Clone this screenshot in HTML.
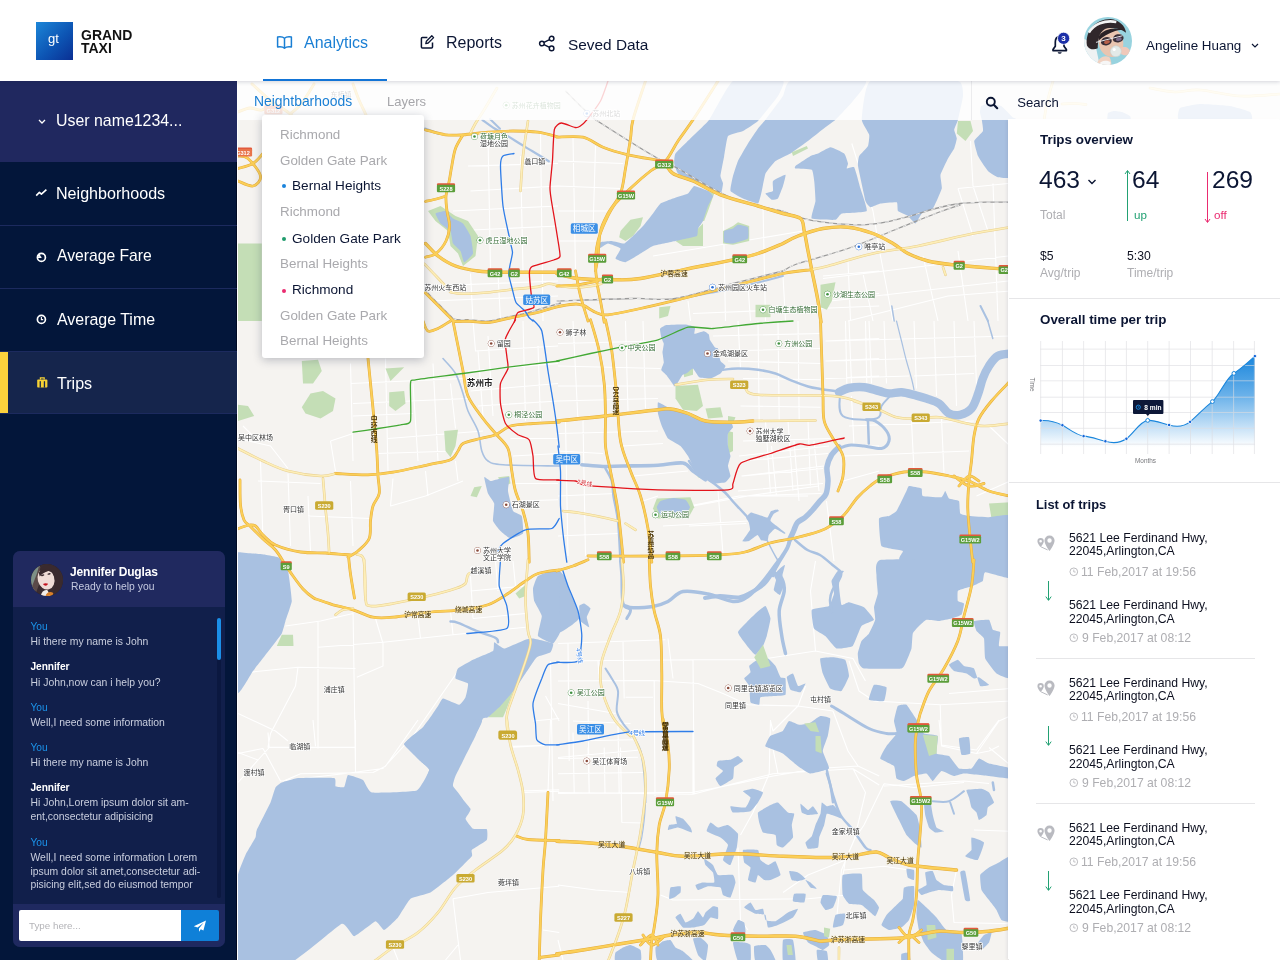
<!DOCTYPE html>
<html lang="en">
<head>
<meta charset="utf-8">
<title>Grand Taxi Analytics</title>
<style>
*{box-sizing:border-box;margin:0;padding:0}
html,body{width:1280px;height:960px;overflow:hidden;background:#fff}
body{font-family:"Liberation Sans","Noto Sans CJK SC",sans-serif;color:#0b1533;position:relative}
.t{position:absolute;white-space:nowrap;line-height:1;transform-origin:0 50%}
.abs{position:absolute}
/* header */
#header{position:absolute;left:0;top:0;width:1280px;height:81px;background:#fff;z-index:30;box-shadow:0 1px 4px rgba(20,30,60,.18)}
#logo{position:absolute;left:36px;top:22px;width:37px;height:38px;background:linear-gradient(135deg,#1c86d8 0%,#0d55b4 55%,#0a2f93 100%)}
/* sidebar */
#side{position:absolute;left:0;top:81px;width:237px;height:879px;background:#03163a;z-index:20;box-shadow:inset -1px 0 0 #010a22}
#side .user{position:absolute;left:0;top:0;width:237px;height:81px;background:#20285f}
#side .row{position:absolute;left:0;width:237px;height:63px;border-top:1px solid #1c2a5e}
#side .row.act{background:#15254c}
#side .row.act:before{content:"";position:absolute;left:0;top:0;width:8px;height:100%;background:#fcd23c}
#side .t{color:#fff}
/* chat */
#chat{position:absolute;left:13px;top:470px;width:212px;height:396px;border-radius:7px;background:#111f4b;overflow:hidden}
#chat .hd{position:absolute;left:0;top:0;width:212px;height:56px;background:#20295f}
#chat .ft{position:absolute;left:0;top:353px;width:212px;height:43px;background:#1f2960}
#chat .m{color:#c9cede;font-size:10.4px}
#chat .y{color:#1b93ea;font-size:10.2px}
#chat .j{color:#fff;font-size:10.2px;font-weight:bold;letter-spacing:-.1px}
/* map */
#map{position:absolute;left:238px;top:81px;width:1042px;height:879px;background:#f5f3f0;overflow:hidden;z-index:1}
#toolbar{position:absolute;left:238px;top:81px;width:1042px;height:39px;background:rgba(255,255,255,.82);z-index:10}
#dd{position:absolute;left:262px;top:115px;width:162px;height:243px;background:#fff;border-radius:3px;box-shadow:0 2px 10px rgba(30,40,70,.28);z-index:12}
#dd .g{color:#a9a9ad;font-size:13.4px}
#dd .d{color:#0b1533;font-size:13.6px}
#dd i{position:absolute;width:4px;height:4px;border-radius:50%}
/* right panel */
#panel{position:absolute;left:1009px;top:120px;width:271px;height:840px;background:#fff;z-index:5;box-shadow:-1px -1px 0 #fff,-2px 0 3px rgba(40,50,80,.10)}
#panel .h{font-weight:bold;font-size:13.4px;color:#0b1533}
#panel .n{font-size:24.6px;color:#0b1533}
#panel .g{color:#aeaeb2;font-size:12px}
#panel .a{font-size:12.2px;color:#0d1020}
#panel .hr{position:absolute;height:1px;background:#e6e6e8}
#panel .trip{position:absolute;left:0;width:271px;height:140px}
</style>
</head>
<body>

<!-- MAP -->
<div id="map">
<svg id="mapsvg" width="1042" height="879" viewBox="238 81 1042 879">
<!--MAPSTART-->
<g fill="none" stroke="#fff" stroke-width="1.1" stroke-linejoin="round">
<path d="M468 166L558 163.5M470.5 191L558 186M488 136L490.5 271M520.5 156L523 271M540.5 133.5L543 321M450.5 231L558 226M453 211L558 206M428 286L558 281M430.5 301L558 296M470.5 273.5L473 321M498 273.5L500.5 321M558 161L623 163.5M558 186L620.5 188.5M558 211L608 211M573 138.5L575.5 271M595.5 146L593 231M558 241L598 241M723 198.5L725.5 321M763 206L765.5 321M653 256L803 231M688 301L690.5 321M748 286L750.5 321M783 276L785.5 321M823 276L879.2 271M823 296L879.2 293.5M848 261L850.5 321M693 313.5L879.2 306M851.8 143.5L873 211L880.5 256L893 321M958 188.5L1008 183.5M958 188.5L973 236M973 186L988 231M993 183.5L998 321M970.5 141L973 186M823 278.5L1008 256M830.5 301L1008 281M848 321L948 296L1010.5 291M863 273.5L873 321M923 256L938 321M958 251L968 321M350.5 363.5L353 461M385.5 358.5L388 471M350.5 383.5L463 378.5M353 403.5L468 398.5M353 416L413 413.5M388 438.5L483 431M378 453.5L455.5 451M413 383.5L418 461M433 363.5L438 461M450.5 383.5L455.5 428.5M473 321L475.5 351L558 346M478 351L483 416M488 336L493 416M523 321L525.5 421M538 346L540.5 421M468 371L558 363.5M470.5 391L558 383.5M478 406L558 401M510.5 438.5L558 438.5M513 456L558 453.5M513 483.5L558 483.5M518 501L558 499.8M238 438.5L270.5 446L288 468.5M258 481L320.5 483.5M260.5 461L263 541M288 473.5L290.5 546M308 516L370.5 518.5M308 496L310.5 551M350.5 481L353 546M330.5 441L353 433.5M330.5 441L335.5 471M393 478.5L390.5 506L425.5 496L463 481M425.5 471L428 496M455.5 461L458 481M243 426L253 436M558 343.5L658 341M558 366L660.5 368.5M558 386L673 386M558 401L658 398.5M573 321L578 421M625.5 321L628 411M643 321L645.5 408.5M713 336L820.5 333.5M723 351L820.5 348.5M728 361L820.5 363.5M738 321L740.5 368.5M758 321L759.2 421M778 321L779.2 421M798 321L799.2 421M743 378.5L820.5 379.8M740.5 406L820.5 407.2M825.5 341L879.2 338.5M825.5 361L879.2 358.5M825.5 378.5L879.2 376M845.5 321L846.8 383.5M865.5 321L866.8 383.5M743 441L833 438.5M740.5 461L828 453.5M743 476L823 468.5M738 491L823 483.5M765.5 421L770.5 493.5M788 421L793 491M808 421L810.5 486M558 433.5L658 431M558 451L603 453.5M565.5 421L568 556M583 421L585.5 556M558 496L615.5 493.5M558 536L618 533.5M623 446L663 443.5M633 476L688 471M643 501L658 496M663 526L748 521M693 506L748 496L808 496M718 491L723 553.5M843 481L879.2 471M853 446L879.2 446M829 341L1010.2 336M829 361L914 358.5M829 378.5L909 376M849 321L851.5 383.5M869 321L871.5 383.5M884 321L886.5 383.5M914 321L916.5 388.5M934 321L936.5 396M954 321L956.5 406M974 321L976.5 386M914 358.5L976.5 356M914 376L974 373.5M849 426L974 421M844 456L969 451M911.5 421L914 471M941.5 418.5L944 473.5M851.5 396L854 446M739 456L829 446M741.5 476L824 466M746.5 496L819 486M771.5 446L776.5 496M794 441L799 501M814 441L819 491M689 506L739 496L821.5 493.5M689 526L746.5 523.5M826.5 501L834 561M976.5 496L1010.2 481M989 426L1010.2 446M285.5 626L320.5 621L353 613.5M318 621L318 748.5M353 608.5L355.5 771M318 647.2L383 642.2L453 634.8L525.5 627.2M375.5 618.5L383 643.5L383 666L356.8 677.2M238 673.5L298 667.2L355.5 668.5M298 667.2L295.5 686L270.5 733.5L268 747.2L355.5 747.2M238 713.5L275.5 731L288 741M238 753.5L263 748.5M263 748.5L280.5 781L345.5 773.5L383 768.5L413 736L458 671M418 617.2L420.5 638.5M450.5 611L453 634.8M470.5 576L473 618.5M470.5 591L525.5 586M473 618.5L525.5 613.5M495.5 561L498 591M513 561L515.5 586M533 721L559.2 718.5M513 747.2L559.2 744.8M550.5 661L553 801M520.5 791L559.2 789.8M545.5 696L559.2 721M558 643.5L665.5 639.8M558 661L693 659.8L758 659.8L815.5 651L853 658.5L865.5 681M558 681L653 680.5L698 683.5L723 693.5L748 704.8L798 706L833 711M693 659.8L694.2 793.5M623 641L624.2 698.5M668 638.5L673 678.5M654.2 681L655 796M558 703.5L615.5 713.5M558 758.5L638 757.2M558 793.5L693 792.2L738 783.5L773 776L818 768.5L858 766L879.2 776M568 643.5L569.2 761M588 701L589.2 793.5M598 661L599.2 678.5M618 726L619.2 793.5M573 721L630.5 723.5M573 741L633 739.8M815.5 561L810.5 591L815.5 651M805.5 686L798 706L773 731L770.5 721M833 711L848 751L858 766M625.5 697.2L653 697.2M940.2 704.8L1010.2 701M940.2 704.8L941.5 746L976.5 753.5L999 721L1010.2 716M949 693.5L1010.2 688.5M849 661L859 691L874 701L940.2 704.8M884 786L964 781L989 783.5M999 746L989 751L976.5 753.5M313 720L315.5 746.2M355.5 720L355.5 772.5M268 747.5L355.5 747.5M268 732.5L269.2 747.5L258 760L238 782.5M283 781.2L300.5 773.8L373 772.5L385.5 766.2L418 720M238 752.5L258 760M513 746.2L559.2 745M523 792.5L559.2 791.2M550.5 720L548 792.5M453 898.8L488 892.5L559.2 886.2M453 898.8L458 940L460.5 960M543 930L559.2 932.5M393 947.5L398 960M458 945L445.5 960M573 732.5L574.2 792.5M588 747.5L589.2 792.5M604.2 747.5L605 792.5M620.5 747.5L621.8 822.5M558 757.5L640.5 750M558 773.8L643 772.5M558 792.5L693 794.2L738 782.5L773 773.8L853 768.8L879.2 785M621.8 822.5L643 823M654.2 731.2L693 731.2L693 794.2M558 885L595.5 890L630.5 892.5M660.5 895L673 900L808 898.8L848 895M738 847.5L740.5 920L748 930M770.5 720L769.2 773.8L753 812.5L740.5 835M773 748.8L778 773.8M853 768.8L865.5 792.5L854.2 840L845.5 860L843 875M845.5 860L808 875L783 892.5M558 940L563 960M838 940L840.5 960M884 783.8L914 787.5L964 782.5M884 783.8L864 825L854 840L841.5 870L839 895L836.5 920M941.5 745L976.5 750L999 720M939 720L941.5 745M974 830L1010.2 831.2M956.5 870L951.5 895L954 922.5L1010.2 923.8M989 747.5L1010.2 765M844 870L884 866.2L909 870"/>
</g>
<g fill="#c4deb6">
<polygon points="238,243.5 261.8,243.5 261.8,321 238,321"/>
<polygon points="428,211 440.5,206 455.5,216 468,221 478,236 475.5,256 463,266 458,253.5 450.5,246 448,231 435.5,221"/>
<polygon points="620.5,231 630.5,219.8 643,217.2 640.5,226 633,236 625.5,241 619.2,237.2"/>
<polygon points="675.5,241 698,228.5 703,223.5 703,246 683,246"/>
<polygon points="723,231 733,226 738,222.2 749.2,226 749.2,241 733,244.8 723,243.5"/>
<polygon points="708,191 714.2,193.5 708,211 704.2,221 700.5,221 705.5,206"/>
<polygon points="958,121 970.5,121 973,131 965.5,141 956.8,133.5"/>
<polygon points="820.5,284.8 835.5,282.2 831.8,301 826.8,309.8 820.5,307.2"/>
<polygon points="755.5,304.8 770.5,304.8 770.5,317.2 755.5,317.2"/>
<polygon points="659.2,307.2 670.5,306 668,316 659.2,318.5"/>
<polygon points="301.8,361 318,359.8 321.8,371 313,383.5 303,383.5"/>
<polygon points="310.5,393.5 323,391 335.5,398.5 333,411 320.5,418.5 305.5,413.5 301.8,407.2"/>
<polygon points="385.5,368.5 404.2,367.2 390.5,381"/>
<polygon points="389.2,392.2 404.2,391 405.5,403.5 395.5,411 389.2,406"/>
<polygon points="444.2,431 458,429.8 455.5,446 450.5,457.2 445.5,451"/>
<polygon points="238,404.8 248,406 254.2,416 238,421"/>
<polygon points="470.5,496 474.2,487.2 481.8,486 476.8,497.2"/>
<polygon points="498,477.2 509.2,476 510.5,483.5 503,486"/>
<polygon points="288,321 320.5,321 320.5,336 303,343.5 291.8,336"/>
<polygon points="675.5,386 698,384.8 703,406 696.8,411 683,409.8 675.5,398.5"/>
<polygon points="705.5,408.5 720.5,407.2 723,417.2 708,418.5"/>
<polygon points="728,416 735.5,417.2 733,423.5 728,422.2"/>
<polygon points="728,431 733,432.2 733,451 728,453.5"/>
<polygon points="694.2,468.5 703,473.5 704.2,479.8 698,477.2"/>
<polygon points="656.8,498.5 690.5,497.2 694.2,507.2 688,518.5 658,518.5 653,508.5"/>
<polygon points="683,368.5 693,367.2 693,374.8 684.2,377.2"/>
<polygon points="989,503.5 1010.2,502.2 1010.2,521 991.5,518.5"/>
<polygon points="276.8,646 281.8,634.8 293,634.8 293.5,646"/>
<polygon points="488,717.2 503,696 514.2,688.5 506.8,708.5 503,717.2"/>
<polygon points="515.5,593.5 525.5,584.8 525.5,596 519.2,598.5"/>
</g>
<g fill="#a9c1e1">
<path d="M733 81C728.6 83.3 711.6 116.5 709.2 119.8C706.9 123 696.3 132.7 694.2 134.8C692.2 136.8 676.7 151.8 675.5 153.5C674.3 155.2 674.1 162.3 674.2 163.5C674.4 164.7 676.9 172.4 678 173.5C679.1 174.6 691.2 180.1 693 181C694.8 181.9 706.4 187.7 708 188.5C709.6 189.3 719.6 195.1 720.5 194.8C721.4 194.4 723 184.6 723 183.5C723 182.4 720.4 177.7 720.5 176C720.6 174.3 723.8 158.4 724.2 156C724.7 153.6 726.9 137.5 728 136C729.1 134.5 741.2 131.9 743 131C744.8 130.1 755.9 123.1 758 121C760.1 118.9 776.5 98.4 778 96C779.5 93.6 785.7 81.9 783 81C780.3 80.1 737.4 78.7 733 81Z"/>
<path d="M730.5 191C729.9 189.7 732.5 177.8 733 176C733.5 174.2 737.1 162.9 738 161C738.9 159.1 746.8 145.4 748 143.5C749.2 141.6 757 129.9 758 128.5C759 127.1 764 121.7 765.5 119.8C767 117.8 781.5 98.3 783 96C784.5 93.7 785.5 81.9 790.5 81C795.5 80.1 861.8 79.8 865.5 81C869.2 82.2 854.8 98.7 853 101C851.2 103.3 837.5 118 835.5 119.8C833.5 121.5 822.1 129.7 820.5 131C818.9 132.3 809.8 139.7 808 141C806.2 142.3 792.5 152.3 790.5 153.5C788.5 154.7 777 159.8 775.5 161C774 162.2 766.3 171.7 765.5 173.5C764.7 175.3 762.2 189.2 761.8 191C761.3 192.8 759.1 203.1 758 203.5C756.9 203.9 744.6 199.2 743 198.5C741.4 197.8 731.1 192.3 730.5 191Z"/>
<path d="M660.5 203.5C661.7 202.6 671.4 199.1 673 198.5C674.6 197.9 686.7 194.2 688 193.5C689.3 192.8 693 186.2 694.2 186C695.5 185.8 706.9 190.4 708 191C709.1 191.6 713 195.1 713 196C713 196.9 708.6 204.5 708 206C707.4 207.5 703.6 219.7 703 221C702.4 222.3 698.4 227.6 698 228.5C697.6 229.4 698.1 235.2 696.8 236C695.4 236.8 678.1 240.4 675.5 241C672.9 241.6 655.1 245.2 653 246C650.9 246.8 642.1 252.5 640.5 253.5C638.9 254.5 627 261.9 625.5 262.2C624 262.6 615.8 259.3 615.5 258.5C615.2 257.7 621 249.4 620.5 248.5C620 247.6 609.3 243.5 608 243.5C606.7 243.5 599.7 248.6 599.2 248.5C598.8 248.4 599.8 242.7 600.5 242.2C601.2 241.8 610.3 240.9 611.8 241C613.2 241.1 623 243.8 624.2 243.5C625.5 243.2 631.9 237.1 633 236C634.1 234.9 641.8 227.3 643 226C644.2 224.7 652 214.8 653 213.5C654 212.2 659.3 204.4 660.5 203.5Z"/>
<path d="M795.5 166C796.4 165.2 809.1 156.8 810.5 156C811.9 155.2 816.8 154 818 153.5C819.2 153 828.9 147.2 830.5 147.2C832.1 147.2 843.2 152.5 844.2 153.5C845.3 154.5 847.9 162.6 848 163.5C848.1 164.4 846.4 168.3 846.8 168.5C847.1 168.7 853.4 166.1 854.2 167.2C855.1 168.4 859.8 185.9 860.5 188.5C861.2 191.1 867.9 209.5 866.8 211C865.6 212.5 843.6 213 841.8 213.5C839.9 214 837.3 219.4 835.5 219.8C833.7 220.1 813 219.6 811.8 218.5C810.5 217.4 815.4 203.2 815.5 201C815.6 198.8 814.5 182.9 814.2 181C814 179.1 812.9 170.5 811.8 169.8C810.6 169 796.5 168.7 795.5 168.5C794.5 168.3 794.6 166.8 795.5 166Z"/>
<path d="M773 181C773.8 180 784.9 174.4 785.5 174.8C786.1 175.1 783.5 184.6 783 186C782.5 187.4 778.7 197.7 778 198.5C777.3 199.3 772.5 200.1 771.8 199.8C771 199.4 765.4 194 765.5 193.5C765.6 193 772.5 191.8 773 191C773.5 190.2 772.2 182 773 181Z"/>
<path d="M870.5 81C864.7 83.3 861.8 116.5 861.8 119.8C861.7 123 868.9 133.2 869.2 134.8C869.6 136.3 868.6 144.7 868 146C867.4 147.3 859.9 154.8 859.2 156C858.6 157.2 857.6 163.3 858 166C858.4 168.7 864.8 198.5 865.5 201C866.2 203.5 869.6 207.1 870.5 207.2C871.4 207.4 878.9 203.8 880.5 203.5C882.1 203.2 895.7 201.8 896.8 202.2C897.8 202.7 897.3 210.2 898 211C898.7 211.8 907 215.2 908 216C909 216.8 914.7 223.7 915.5 223.5C916.3 223.3 920.7 214.4 921.8 213.5C922.8 212.6 931.8 210 933 208.5C934.2 207 941.3 190.5 941.8 188.5C942.2 186.5 940.1 176.6 940.5 174.8C940.9 172.9 947.2 160.1 948 158.5C948.8 156.9 953.7 149.7 954.2 148.5C954.8 147.3 956.8 139.6 956.8 138.5C956.8 137.4 954.2 130.9 954.2 129.8C954.3 128.6 957.5 121.8 958 119.8C958.5 117.7 963 98.3 963 96C963 93.7 963.5 81.9 958 81C952.5 80.1 876.3 78.7 870.5 81Z"/>
<path d="M981.2 106C981.8 105.5 987.5 103.5 988.8 103.5C990 103.5 999.8 105.2 1001.2 106C1002.7 106.8 1011.6 116.3 1012.5 117.2C1013.4 118.2 1016.5 117.5 1016.8 121C1017 124.5 1017.9 172.6 1016.8 176C1015.6 179.4 999.7 177.6 998 177.2C996.3 176.9 989.2 172.3 988 171C986.8 169.7 978.8 157.8 978 156C977.2 154.2 974 142.5 974.2 141C974.5 139.5 982.5 132.3 983 131C983.5 129.7 981.9 120.9 981.8 119.8C981.6 118.6 980 113.1 980 112.2C980 111.4 980.7 106.5 981.2 106Z"/>
<path d="M1108 113C1108.4 112.4 1113.2 111.1 1114 111C1114.8 110.9 1121 111.7 1122 112C1123 112.3 1129.5 115.5 1130 116C1130.5 116.5 1131.3 120.7 1130 121C1128.7 121.3 1109.3 121.5 1108 121C1106.7 120.5 1107.6 113.6 1108 113Z"/>
<path d="M1180 108C1181.2 107 1197 104.1 1200 104C1203 103.9 1227 105.5 1230 106C1233 106.5 1248.8 111.1 1250 112C1251.2 112.9 1254.2 120.5 1250 121C1245.8 121.5 1184.2 121.8 1180 121C1175.8 120.2 1178.8 109 1180 108Z"/>
<path d="M724.2 231C724.8 230.2 732.2 228.9 733 228.5C733.8 228.1 737.1 224.8 738 224.8C738.9 224.7 747.4 226.4 748 227.2C748.6 228.1 748.9 237.5 748 238.5C747.1 239.5 734.4 243.3 733 243.5C731.6 243.7 724.8 243 724.2 242.2C723.7 241.5 723.7 231.8 724.2 231Z"/>
<path d="M435.5 213.5C435.8 212.8 444.4 210.7 445.5 211C446.6 211.3 451.9 217.8 453 218.5C454.1 219.2 461.9 222.4 463 223.5C464.1 224.6 469.9 234.2 470.5 236C471.1 237.8 473.4 251.9 473 253.5C472.6 255.1 465 262.4 464.2 262.2C463.5 262.1 461.2 252.1 460.5 251C459.8 249.9 453.6 244.7 453 243.5C452.4 242.3 451.2 232.2 450.5 231C449.8 229.8 441.4 224.6 440.5 223.5C439.6 222.4 435.2 214.2 435.5 213.5Z"/>
<path d="M660 328.8C660.3 328.1 664.8 325.3 666.3 325C667.8 324.7 683.3 324.3 685 324.4C686.7 324.5 694.4 326.3 695 326.9C695.6 327.5 693.9 333.5 694.4 333.8C694.9 334.1 702.9 331.3 703.8 331.3C704.7 331.3 708.4 333.9 708.8 334.4C709.2 334.9 709.6 339.2 710 340C710.4 340.8 714.5 347 715 347.5C715.5 348 717.7 347.7 718 348.5C718.3 349.3 720 359.9 720.5 361C721 362.1 725.5 365.2 725.5 366C725.5 366.8 721.4 372.8 720.5 373.5C719.6 374.2 711.8 378.3 710.5 378.5C709.2 378.7 700.3 377.9 699.3 377.3C698.2 376.7 693.7 368.8 693 368.5C692.3 368.2 687.6 372.6 687 373C686.4 373.4 683.1 374.3 682.5 375C681.9 375.7 676.8 384.3 676.3 385C675.8 385.7 674.8 386.6 674.4 386.3C674 386 670.5 380.7 670 380C669.5 379.3 666.8 375.6 666.3 375C665.8 374.4 661.4 370.8 661.3 370C661.1 369.2 663.7 363.6 663.8 362.5C663.9 361.4 662.5 353.6 662.5 352.5C662.5 351.4 663.9 344.7 663.8 343.8C663.7 342.9 661.5 338.4 661.3 337.5C661.1 336.6 659.7 329.6 660 328.8Z"/>
<path d="M658 402.2C658.6 401.9 666.5 406.7 668 407.2C669.5 407.8 681.2 410.4 683 411C684.8 411.6 696.5 416.6 698 417.2C699.5 417.9 706 421.9 708 422.2C710 422.6 729 421.9 730.5 422.2C732 422.6 733.1 426.6 733 427.2C732.9 427.9 728.3 432.4 728 433.5C727.7 434.6 727.9 444.6 728 446C728.1 447.4 730.5 454.8 730.5 456C730.5 457.2 728 464.8 728 466C728 467.2 730.6 475 730.5 476C730.4 477 726.5 481.8 725.5 482.2C724.5 482.7 714.2 483.7 713 483.5C711.8 483.3 706.5 479.2 705.5 478.5C704.5 477.8 696.5 472.4 695.5 471C694.5 469.6 688.9 457.5 688 456C687.1 454.5 681.7 447.1 680.5 446C679.3 444.9 669.1 439.7 668 438.5C666.9 437.3 662.4 427.5 661.8 426C661.1 424.5 658.2 414.9 658 413.5C657.8 412.1 657.4 402.6 658 402.2Z"/>
<path d="M656.8 507.2C656.8 506.4 659.5 501.6 660.5 501C661.5 500.4 671.5 498.1 673 498C674.5 497.9 684.5 499.2 685.5 499.8C686.5 500.3 690 506.4 690 507.2C690 508.1 686.5 514.1 685.5 514.8C684.5 515.4 674.5 517.2 673 517.2C671.5 517.2 661.5 515.4 660.5 514.8C659.5 514.1 656.8 508.1 656.8 507.2Z"/>
<path d="M484.2 477.2C484.4 476.5 489.5 480.9 490.5 481C491.5 481.1 499.4 478.7 500.5 478.5C501.6 478.3 508.8 476.5 509.2 477.2C509.7 478 507.8 489 508 491C508.2 493 512.2 509.5 513 511C513.8 512.5 521.1 514.6 521.8 516C522.4 517.4 523.7 532.1 523 533.5C522.3 534.9 511.9 538.6 510.5 538.5C509.1 538.4 501.6 532 500.5 531C499.4 530 493.4 522.6 493 521C492.6 519.4 494.6 505.1 494.2 503.5C493.9 501.9 488.6 495.1 488 493.5C487.4 491.9 484.1 478 484.2 477.2Z"/>
<path d="M238 552.2C238.9 551.8 251.3 553.4 253 553.5C254.7 553.6 264 554.5 265.5 554.8C267 555 277 556.9 278 557.2C279 557.6 284.1 560.8 281.8 561C279.4 561.2 240.6 561.5 238 561C235.4 560.5 237.1 552.7 238 552.2Z"/>
<path d="M746 517.5C746.1 516.9 750.1 512.6 751 512.5C751.9 512.4 760 515.3 761 515.6C762 515.9 766.9 517.8 767.5 517.5C768.1 517.2 770.4 511.5 771 511C771.6 510.5 777 509.4 777.5 509.4C778 509.4 779 510.7 778.8 511C778.6 511.3 774.3 513.2 773.8 513.8C773.3 514.4 769.9 519.9 770.6 521C771.3 522.1 784.2 531.7 785 532.5C785.8 533.3 785 534 784.4 533.8C783.8 533.6 775.9 528.7 775 528.8C774.1 528.9 769.2 534.3 768.8 535C768.3 535.7 768 540.7 767.5 541C767 541.3 761.6 540.4 761 540C760.4 539.6 758.2 534.9 757.5 535C756.8 535.1 749.7 540.6 748.8 541C747.9 541.4 742.4 541.7 742.5 541C742.6 540.3 749.6 531.1 750 530C750.4 528.9 749 523.2 748.8 522.5C748.6 521.8 745.9 518.1 746 517.5Z"/>
<path d="M781 567.5C781.7 566.9 784.9 564.5 785 565C785.1 565.5 782.6 573.8 782.5 575C782.4 576.2 783.9 583.8 783.8 585C783.6 586.2 780.6 594.7 780 595C779.4 595.3 774 590.9 773.8 590C773.6 589.1 776 580.9 776 580C776 579.1 773.5 575.8 773.8 575C774.1 574.2 780.3 568.1 781 567.5Z"/>
<path d="M906.5 491C906.8 490.4 908.1 486.1 909 486C909.9 485.9 920.7 487.9 921.5 488.5C922.3 489.1 921.5 495.5 922.8 496C924 496.5 940.1 497.6 941.5 497.2C942.9 496.9 944.8 490.9 945.2 491C945.7 491.1 948.2 497.9 949 498.5C949.8 499.1 958.3 500.1 959 501C959.7 501.9 959.6 512.6 960.2 513.5C960.9 514.4 967.3 515.8 969 516C970.7 516.2 986.5 517.2 989 517.2C991.5 517.2 1010.1 513.4 1011.5 516C1012.9 518.6 1018.1 558.3 1011.5 561C1004.9 563.7 908 561.6 901.5 561C895 560.4 904 551.9 902.8 551C901.5 550.1 882.9 548 881.5 546C880.1 544 878.5 520.3 879 518.5C879.5 516.7 888 516.5 889 516C890 515.5 895.6 512.2 896.5 511C897.4 509.8 903.4 497.2 904 496C904.6 494.8 906.2 491.6 906.5 491Z"/>
<path d="M881.5 559.8C873.4 560.7 876.7 574 876.5 576C876.3 578 877.9 591.6 877.8 593.5C877.6 595.4 874.1 605.7 874 607.2C873.9 608.8 875.5 618.2 875.2 619.8C875 621.3 869.8 632.2 869 633.5C868.2 634.8 862.2 639.8 861.5 641C860.8 642.2 857.9 652.1 857.8 653.5C857.6 654.9 858.6 662.6 859 663.5C859.4 664.4 861.5 668.2 864 668.5C866.5 668.8 899 669 901.5 668.5C904 668 905.9 662.2 906.5 661C907.1 659.8 911.1 650.1 911.5 648.5C911.9 646.9 912.3 634.9 912.8 633.5C913.2 632.1 918.2 626.8 919 626C919.8 625.2 925.3 620 926.5 619.8C927.7 619.5 937.5 621.1 939 621C940.5 620.9 950.1 618.9 951.5 618.5C952.9 618.1 960.8 615.6 961.5 614.8C962.2 613.9 964.2 604.3 964 603.5C963.8 602.7 958.1 601.8 957.8 601C957.4 600.2 957.4 591.8 957.8 591C958.1 590.2 963.1 588.8 964 588.5C964.9 588.2 971.6 586.5 972.8 586C973.9 585.5 982 581.8 982.8 581C983.5 580.2 983.5 572.4 985.2 572.2C987 572.1 1009.9 579.2 1011.5 578.5C1013.1 577.8 1019.3 560.9 1011.5 559.8C1003.7 558.6 889.6 558.8 881.5 559.8Z"/>
<path d="M236.8 559.8C239.3 551.8 276.2 559.1 279.2 559.8C282.3 560.4 287.2 568.5 288 571C288.8 573.5 291.9 598 291.8 601C291.6 604 286.1 619 285.5 621C284.9 623 282.6 631.9 281.8 633.5C280.9 635.1 272.2 646.2 270.5 648.5C268.8 650.8 255 668.4 253 671C251 673.6 237.7 698.9 236.8 692.2C235.8 685.6 234.2 567.7 236.8 559.8Z"/>
<path d="M494.2 642.2C494.9 642.1 502.4 648.6 504.2 648.5C506.1 648.4 523.8 640.4 525.5 639.8C527.2 639.1 531.4 638.3 533 638.5C534.6 638.7 552 642.7 553 643.5C554 644.3 551.5 651.4 550.5 652.2C549.5 653.1 538.2 656 536.8 657.2C535.2 658.5 526.8 671.6 525.5 673.5C524.2 675.4 517 686.5 515.5 688.5C514 690.5 502.1 704.3 500.5 706C498.9 707.7 489.1 716.5 488 717.2C486.9 718 483.8 717.4 483 718.5C482.2 719.6 476.6 733.6 475.5 736C474.4 738.4 465.4 756.1 464.2 758.5C463.1 760.9 456.2 774.4 455.5 776C454.8 777.6 452.6 784.5 453 786C453.4 787.5 465.1 800.1 463 801C460.9 801.9 420.4 801.9 418 801C415.6 800.1 422.3 787.9 423 786C423.7 784.1 429.4 771.2 429.2 769.8C429.1 768.2 422 762.5 420.5 761C419 759.5 404.9 746.2 404.2 744.8C403.6 743.3 409.3 738.4 410.5 737.2C411.7 736.1 422.6 727.9 424.2 726C425.9 724.1 436.9 707.6 438 706C439.1 704.4 441.7 698.6 443 698.5C444.3 698.4 457.9 704.8 459.2 704.8C460.6 704.7 465 698.5 465.5 697.2C466 696 468.6 684.6 468 683.5C467.4 682.4 456.1 679.4 455.5 678.5C454.9 677.6 456.9 669.6 458 668.5C459.1 667.4 470.9 660.8 473 659.8C475.1 658.7 491.7 652 493 651C494.3 650 493.6 642.4 494.2 642.2Z"/>
<path d="M430.5 720C434 719.5 479.5 718.4 481.8 720C484 721.6 469.6 744.2 468 747.5C466.4 750.8 455.1 772.6 454.2 775C453.4 777.4 452 785.5 453 787.5C454 789.5 469.8 806.9 470.5 808.8C471.2 810.6 465.4 817.5 465.5 818.8C465.6 820 471.7 828.1 473 828.8C474.3 829.4 485.9 828.6 486.8 829.2C487.6 829.9 487.6 838.8 486.8 840C485.9 841.2 472.6 849 471.8 850C470.9 851 472.9 854.8 471.8 856.2C470.6 857.8 455.5 872.8 453 875C450.5 877.2 433.1 891.1 430.5 892.5C427.9 893.9 412.4 897.2 410.5 898.8C408.6 900.2 399.6 915.6 398 917.5C396.4 919.4 385.6 929.8 384.2 930C382.9 930.2 377.3 920.9 375.5 921.2C373.7 921.6 356.3 936.1 354.2 936.2C352.2 936.4 345.4 922.2 341.8 923.8C338.1 925.2 299.3 959 293 961.2C286.7 963.5 240.1 966.1 236.8 961.2C233.4 956.4 236.2 886.4 236.8 880C237.3 873.6 244.4 857.5 245.5 855C246.6 852.5 254.8 839 255.5 837.5C256.2 836 255.8 832.1 256.8 830C257.6 827.9 269.4 805 270.5 802.5C271.6 800 274.8 788.7 275.5 787.5C276.2 786.3 280.4 783.1 281.8 782.5C283.1 781.9 294.9 778.3 298 778C301.1 777.7 332 777.5 334.2 778C336.5 778.5 334.9 785.7 335.5 786.2C336.1 786.8 343.5 787.7 344.2 787C345 786.3 346.9 775.4 348 775C349.1 774.6 361.6 779 363 780C364.4 781 368.5 791.9 371.8 792.5C375 793.1 413.3 791.9 416.8 790.5C420.2 789.1 429 771.8 429.2 770C429.5 768.2 422 762.8 420.5 761.2C419 759.7 404.8 745.7 404.2 744.2C403.7 742.8 411.1 738 411.8 737.5C412.4 737 414.8 736.9 415.5 736.2C416.2 735.6 422.1 728.5 423 727.5C423.9 726.5 427 720.5 430.5 720Z"/>
<path d="M556.8 571C557.2 567.6 563.4 574.6 564.2 576C565.1 577.4 569.8 591.6 570.5 593.5C571.2 595.4 576.2 605.8 576.8 607.2C577.3 608.8 579.6 617.4 579.2 618.5C578.9 619.6 571.9 625.2 570.5 626C569.1 626.8 557.6 635.5 556.8 632.2C555.9 629 556.3 574.4 556.8 571Z"/>
<path d="M579.2 606C579.5 605 583.6 603.4 584.2 603.5C584.9 603.6 590.4 607.7 590.5 608.5C590.6 609.3 586.8 616.1 586.8 617.2C586.7 618.4 589.6 627 589.2 627.2C588.9 627.5 581.1 622.3 580.5 621C579.9 619.7 579 607 579.2 606Z"/>
<path d="M538 576C539.6 574.9 558 568.2 559.2 569.8C560.5 571.2 559.2 597.3 559.2 601C559.3 604.7 560.9 628.5 560.5 631C560.1 633.5 554.4 643.2 553 643.5C551.6 643.8 538.7 637.6 538 636C537.3 634.4 542 618.1 541.8 616C541.5 613.9 534.8 602.6 534.2 601C533.7 599.4 532.8 590 533 588.5C533.2 587 536.4 577.1 538 576Z"/>
<path d="M738 632.2C738.4 630.1 753.9 615.1 755.5 613.5C757.1 611.9 764.6 605.7 765.5 606C766.4 606.3 770.4 616.7 770.5 618.5C770.6 620.3 767.2 634.4 766.8 636C766.3 637.6 763.7 644.9 763 646C762.3 647.1 756.3 654.6 755.5 654.8C754.7 654.9 750.3 649.9 749.2 648.5C748.2 647.1 737.6 634.4 738 632.2Z"/>
<path d="M755.5 661C756.6 660.5 766.8 658.2 768 658.5C769.2 658.8 774.8 664.9 775.5 666C776.2 667.1 779.9 676.5 780.5 677.2C781.1 678 785.2 677.5 785.5 678.5C785.8 679.5 786.1 693.7 785.5 694.8C784.9 695.8 777 695.9 775.5 696C774 696.1 761.5 696.7 760.5 697.2C759.5 697.8 759.9 704.5 759.2 704.8C758.6 705 751.1 703.4 750.5 702.2C749.9 701.1 749.6 687.4 749.2 686C748.9 684.6 744.2 679.3 744.2 678.5C744.3 677.7 750.2 673 750.5 672.2C750.8 671.5 749 666.7 749.2 666C749.5 665.3 754.4 661.5 755.5 661Z"/>
<path d="M786.8 677.2C786.9 676.3 792.3 673 793 673.5C793.7 674 797.2 685.4 798 686C798.8 686.6 805.4 683.1 805.5 683.5C805.6 683.9 801.4 691.9 800.5 692.2C799.6 692.6 791.3 690.6 790.5 689.8C789.7 688.9 786.6 678.2 786.8 677.2Z"/>
<path d="M811.8 609.8C812.6 608.4 827.7 607 829 606C830.3 605 833.9 595 834 593.5C834.1 592 831.3 582.4 831.5 581C831.7 579.6 837 571.6 837.8 571C838.5 570.4 843.9 570.7 844 571C844.1 571.3 840.5 575.1 840.2 576C840 576.9 838.9 584.3 839 586C839.1 587.7 840.9 603.8 841.5 604.8C842.1 605.7 847.6 602.1 849 602.2C850.4 602.4 862.5 606.2 864 607.2C865.5 608.3 874.1 618.6 874 619.8C873.9 620.9 862.8 624.4 861.5 626C860.2 627.6 854.2 644.6 852.8 646C851.2 647.4 838.1 649.1 836.5 648.5C834.9 647.9 826.6 637.2 825.2 636C823.9 634.8 814.8 630.1 814 628.5C813.2 626.9 810.9 611.1 811.8 609.8Z"/>
<path d="M820.2 658.5C820.9 657.5 831.2 657.2 832.8 657.2C834.2 657.3 844.3 658.6 845.2 659.8C846.2 660.9 849.2 674.1 849 676C848.8 677.9 842.6 690.2 841.5 691C840.4 691.8 831.4 689.5 830.2 688.5C829.1 687.5 823.4 675.3 822.8 673.5C822.1 671.7 819.6 659.5 820.2 658.5Z"/>
<path d="M874 684.8C875 684 885.9 686.3 886.5 687.2C887.1 688.2 885 700.2 884 701C883 701.8 869.6 700.7 869 699.8C868.4 698.8 873 685.5 874 684.8Z"/>
<path d="M789 721C790 720.6 797.8 724.6 799 724.8C800.2 724.9 807.7 724 809 723.5C810.3 723 819 716.3 820.2 716C821.5 715.7 829.8 717.3 830.2 718.5C830.7 719.7 828.2 734 827.8 736C827.3 738 822.7 749 822.8 751C822.8 753 829.8 767.1 829 768.5C828.2 769.9 812.1 773.6 810.2 773.5C808.4 773.4 799.4 767.2 797.8 766C796.1 764.8 784.4 754.5 782.8 753.5C781.1 752.5 771.3 749 770.2 748.5C769.2 748 765.2 746.8 765.2 746C765.2 745.2 769.2 736.9 770.2 736C771.3 735.1 781.6 731.9 782.8 731C783.9 730.1 788 721.4 789 721Z"/>
<path d="M974 621C974.8 620.3 987.9 619.2 989 619.8C990.1 620.3 992.1 629 992.8 629.8C993.4 630.5 999.9 631.3 1000.2 632.2C1000.6 633.2 998.3 645.1 999 646C999.7 646.9 1010.8 645.3 1011.5 647.2C1012.2 649.2 1012.4 676.9 1011.5 678.5C1010.6 680.1 998.1 674.7 996.5 673.5C994.9 672.3 986 660.6 985.2 658.5C984.5 656.4 984.5 640.1 984 638.5C983.5 636.9 977.1 632 976.5 631C975.9 630 973.2 621.7 974 621Z"/>
<path d="M949 664.8C949.2 664.1 956.9 659.7 957.8 659.8C958.6 659.8 963 665.5 964 666C965 666.5 973 667.3 974 668.5C975 669.7 979.4 685 980.2 686C981.1 687 989.1 685.3 989 684.8C988.9 684.2 979.9 677.6 979 677.2C978.1 676.9 974.8 678.7 974 678.5C973.2 678.3 967.7 674 966.5 673.5C965.3 673 955 671.5 954 671C953 670.5 948.8 665.4 949 664.8Z"/>
<path d="M897.8 706C898.5 705 905.2 703.7 906.5 704.8C907.8 705.8 918 721.8 919 723.5C920 725.2 922.9 732.8 924 733.5C925.1 734.2 937 734.8 937.8 736C938.5 737.2 935.8 752.3 936.5 753.5C937.2 754.7 947.6 755.1 949 756C950.4 756.9 957.6 767.8 959 768.5C960.4 769.2 970.3 769.1 971.5 768.5C972.7 767.9 978 758.8 979 758.5C980 758.2 987 762.9 989 763.5C991 764.1 1010.1 767.6 1011.5 768.5C1012.9 769.4 1012.9 778 1011.5 778.5C1010.1 779 991.9 776.3 989 776C986.1 775.7 966.1 773.5 964 773.5C961.9 773.5 955.4 776.1 954 776C952.6 775.9 942.8 770.7 941.5 771C940.2 771.3 933.6 780.9 932.8 781C931.9 781.1 927.6 773.8 926.5 773.5C925.4 773.2 915.4 775.5 914 776C912.6 776.5 905 780.9 904 781C903 781.1 897.1 779.4 896.5 778.5C895.9 777.6 895 767.2 894 766C893 764.8 880.7 759.7 880.2 758.5C879.8 757.3 885.5 747.5 886.5 746C887.5 744.5 896 735 896.5 733.5C897 732 893.9 722.6 894 721C894.1 719.4 897 707 897.8 706Z"/>
<path d="M959 738.5C959.5 737.5 968.3 736.4 969 737.2C969.7 738.1 970.7 752.5 970.2 753.5C969.8 754.5 962.2 755.6 961.5 754.8C960.8 753.9 958.5 739.5 959 738.5Z"/>
<path d="M718 761C718.8 760.6 729.3 760 730.5 759.8C731.7 759.5 737.2 755.9 738 756C738.8 756.1 743.2 760.3 743 761C742.8 761.7 734.9 766.2 734.2 767.2C733.6 768.3 733.8 777.4 733 778.5C732.2 779.6 721.5 786 720.5 786C719.5 786 715.4 779.4 715.5 778.5C715.6 777.6 722.9 771.8 723 771C723.1 770.2 717 766.6 716.8 766C716.5 765.4 717.2 761.4 718 761Z"/>
<path d="M743 791.2C743.1 790.7 751.8 788.7 753 788.8C754.2 788.8 762.7 791.7 763 792.5C763.3 793.3 758.8 801.4 758 802.5C757.2 803.6 752 810.6 750.5 811.2C749 811.9 734.2 812.8 733 812.5C731.8 812.2 729.8 806.5 730.5 806.2C731.2 806 744.3 808 745.5 807.5C746.7 807 750.6 798.5 750.5 797.5C750.4 796.5 742.9 791.8 743 791.2Z"/>
<path d="M758 812.5C758.7 811.5 769.3 805.6 770.5 805C771.7 804.4 777 802 778 802.5C779 803 787 811.8 788 812.5C789 813.2 794 813 794.2 813.8C794.5 814.5 791.8 823.6 791.8 825C791.7 826.4 793.5 836.1 793 837.5C792.5 838.9 784 847 783 847.5C782 848 777.2 845.8 776.8 845C776.3 844.2 776.3 835.8 775.5 835C774.7 834.2 764 833.2 763 832.5C762 831.8 759.5 823.7 759.2 822.5C759 821.3 757.3 813.5 758 812.5Z"/>
<path d="M800.5 803.8C800.9 803.6 807.2 809.9 808 810C808.8 810.1 812.4 806 813 806.2C813.6 806.5 818.3 813.2 818 813.8C817.7 814.3 809 815.1 808 815C807 814.9 802.2 813.2 801.8 812.5C801.3 811.8 800.1 803.9 800.5 803.8Z"/>
<path d="M821.8 802.5C822.1 802 826.1 806.1 826.8 806.2C827.4 806.4 832.4 804.9 833 805C833.6 805.1 836.1 807.9 836.8 808.8C837.4 809.6 843.1 818.3 843 818.8C842.9 819.2 836.5 816.5 835.5 816.2C834.5 816 827.4 813.2 826.8 813.8C826.1 814.3 824.7 823.6 824.2 825C823.8 826.4 819.6 836.1 819.2 837.5C818.9 838.9 818.7 846.8 818 847.5C817.3 848.2 808.8 849 808 848.8C807.2 848.5 805.3 843.2 805.5 842.5C805.7 841.8 811.1 837.3 811.8 836.2C812.4 835.2 815 826.4 815.5 825C816 823.6 820.1 815.1 820.5 813.8C820.9 812.4 821.4 803 821.8 802.5Z"/>
<path d="M675.5 816.2C675.9 816 682.1 818.1 683 818.8C683.9 819.4 690 826.7 690.5 827.5C691 828.3 692.5 832.5 691.8 832.5C691 832.5 679.4 827.6 678 827.5C676.6 827.4 668.5 830.1 668 830C667.5 829.9 668.7 825.4 669.2 825C669.8 824.6 676.4 824.3 676.8 823.8C677.1 823.2 675.1 816.5 675.5 816.2Z"/>
<path d="M710.5 822.5C711.2 822.3 717 827.4 718 827.5C719 827.6 726.8 824.6 728 825C729.2 825.4 737.5 832.4 738 833.8C738.5 835.1 737.2 845.6 736.8 847.5C736.3 849.4 731.3 864.2 730.5 865C729.7 865.8 723.1 861.2 723 860C722.9 858.8 728.1 846.4 728 845C727.9 843.6 721.8 838.3 720.5 837.5C719.2 836.7 707.4 832.1 706.8 831.2C706.1 830.4 709.8 822.7 710.5 822.5Z"/>
<path d="M743 850C743.8 849.2 757 849.4 758 850C759 850.6 759.9 859.1 760.5 860C761.1 860.9 767.1 864.9 768 865C768.9 865.1 774.8 860.6 775.5 861.2C776.2 861.9 780.8 873.9 780.5 875C780.2 876.1 771.5 879.7 770.5 880C769.5 880.3 765 880.3 764.2 880C763.5 879.7 758.5 874.9 758 875C757.5 875.1 756.1 882.2 755.5 882.5C754.9 882.8 748.3 880.9 748 880C747.7 879.1 750.7 868.5 750.5 867.5C750.3 866.5 744.7 863.5 744.2 862.5C743.8 861.5 742.2 850.8 743 850Z"/>
<path d="M704.2 858.8C704.7 858.8 712.2 864 713 865C713.8 866 716.8 874.4 718 875C719.2 875.6 732 874.5 733 875C734 875.5 735.6 881.1 735.5 882.5C735.4 883.9 731.2 896.8 730.5 897.5C729.8 898.2 723.6 895.6 723 895C722.4 894.4 721.4 888 720.5 887.5C719.6 887 709.4 886.1 708 886.2C706.6 886.4 698.8 890.1 698 890C697.2 889.9 695.2 885.5 695.5 885C695.8 884.5 701.9 882.6 703 882.5C704.1 882.4 713.6 883.1 714.2 882.5C714.9 881.9 713.5 873.5 713 872.5C712.5 871.5 706 865.8 705.5 865C705 864.2 703.8 858.8 704.2 858.8Z"/>
<path d="M670.5 887.5C671.2 886.8 679.9 886 680.5 886.2C681.1 886.5 680.9 891.8 680.5 892.5C680.1 893.2 674.9 897.1 674.2 897.5C673.6 897.9 669.5 899.4 669.2 898.8C669 898.1 669.8 888.2 670.5 887.5Z"/>
<path d="M789.2 871.2C789.6 870.8 797 872 798 872.5C799 873 805.5 878.2 805.5 878.8C805.5 879.3 798.8 881.2 798 881.2C797.2 881.3 792.3 880.6 791.8 880C791.2 879.4 788.9 871.7 789.2 871.2Z"/>
<path d="M805.5 880C805.5 879.7 809.8 882 810.5 882.5C811.2 883 816.8 888.5 816.8 888.8C816.8 889 811.2 888 810.5 887.5C809.8 887 805.5 880.3 805.5 880Z"/>
<path d="M842.8 875C843.9 873.7 860.3 872.9 861.5 873.8C862.7 874.6 862 888.4 862.8 890C863.5 891.6 873 899 874 900C875 901 878.9 906.5 879 907.5C879.1 908.5 875.9 916.1 875.2 916.2C874.6 916.4 868.6 910.7 867.8 910C866.9 909.3 862.6 905.4 861.5 905C860.4 904.6 850.1 904.4 849 903.8C847.9 903.1 843.1 896.7 842.8 895C842.4 893.3 841.6 876.3 842.8 875Z"/>
<path d="M794.2 893.8C795 893.3 804.9 893.2 805.5 893.8C806.1 894.3 805 902 804.2 902.5C803.5 903 793.6 901.8 793 901.2C792.4 900.7 793.5 894.2 794.2 893.8Z"/>
<path d="M823 895C824 894.6 836.1 895.5 836.8 896.2C837.4 897 833.7 906.7 833 907.5C832.3 908.3 826.2 910.3 825.5 910C824.8 909.7 820.6 903.4 820.5 902.5C820.4 901.6 822 895.4 823 895Z"/>
<path d="M744.2 907.5C744 906.8 749.8 902.4 750.5 902.5C751.2 902.6 754.8 909.6 755.5 910C756.2 910.4 762.4 908.1 763 908.8C763.6 909.4 764.8 919.2 765.5 920C766.2 920.8 774.1 921.7 775.5 921.2C776.9 920.8 786.6 913.2 788 912.5C789.4 911.8 797.7 908.5 798 908.8C798.3 909 794.2 916.5 793 917.5C791.8 918.5 779.5 924.4 778 925C776.5 925.6 768.8 928.1 768 927.5C767.2 926.9 766.2 915.8 765.5 915C764.8 914.2 756.8 914.2 755.5 913.8C754.2 913.3 744.5 908.2 744.2 907.5Z"/>
<path d="M675.5 917.5C675.4 916.7 679.9 913.5 680.5 913.8C681.1 914 684.8 922.2 685.5 922.5C686.2 922.8 692.2 919.4 693 918.8C693.8 918.1 697.4 911.3 698 911.2C698.6 911.2 702.5 917.4 703 917.5C703.5 917.6 704.9 913.2 705.5 912.5C706.1 911.8 712.2 906.5 713 906.2C713.8 906 717.7 906.8 718 907.5C718.3 908.2 718.5 918.1 718 918.8C717.5 919.4 711.3 917.1 710.5 917.5C709.7 917.9 705.3 924.4 704.2 925C703.2 925.6 694.3 927.4 693 927.5C691.7 927.6 684 928.1 683 927.5C682 926.9 675.6 918.3 675.5 917.5Z"/>
<path d="M738 920C738.7 919.5 743.8 921.8 744.2 922.5C744.7 923.2 745.9 931.8 745.5 932.5C745.1 933.2 738.8 935.1 738 935C737.2 934.9 733 930.9 733 930C733 929.1 737.3 920.5 738 920Z"/>
<path d="M835.5 915C836.2 914.2 845 913.1 845.5 913.8C846 914.4 843.8 924.2 843 925C842.2 925.8 833.5 928.1 833 927.5C832.5 926.9 834.8 915.8 835.5 915Z"/>
<path d="M615.5 952.5C616 951.7 622.1 948 623 947.5C623.9 947 629.5 944.9 630.5 945C631.5 945.1 639.9 949 640.5 950C641.1 951 642 960.6 640.5 961.2C639 961.9 617 961.8 615.5 961.2C614 960.7 615 953.3 615.5 952.5Z"/>
<path d="M655.5 947.5C655.8 946.3 662.1 941.7 663 941.2C663.9 940.8 669.8 939.6 670.5 940C671.2 940.4 674.8 946.8 675.5 947.5C676.2 948.2 682 950.4 683 951.2C684 952.1 694.5 960.6 693 961.2C691.5 961.9 660.2 962.1 658 961.2C655.8 960.4 655.2 948.7 655.5 947.5Z"/>
<path d="M693 938.8C693.1 937.7 699.6 937.1 700.5 937.5C701.4 937.9 707.7 943.6 708 945C708.3 946.4 706.1 960.6 705.5 961.2C704.9 961.9 698.8 956.4 698 955C697.2 953.6 692.9 939.8 693 938.8Z"/>
<path d="M733 942.5C733.4 941.4 743.2 942.4 744.2 942.5C745.3 942.6 750.1 943.9 750.5 945C750.9 946.1 751.2 960.3 750.5 961.2C749.8 962.2 739 962.4 738 961.2C737 960.1 732.6 943.6 733 942.5Z"/>
<path d="M754.2 946.2C754.9 945.3 764.5 944.8 765.5 945C766.5 945.2 769.9 949 770.5 950C771.1 951 776.4 960.6 775.5 961.2C774.6 961.9 756.8 962.1 755.5 961.2C754.2 960.4 753.6 947.2 754.2 946.2Z"/>
<path d="M783 940C783.6 938.7 792.2 938.7 793 940C793.8 941.3 796.1 960 795.5 961.2C794.9 962.5 783.8 962.5 783 961.2C782.2 960 782.4 941.3 783 940Z"/>
<path d="M803 932.5C803.5 931.8 814.1 929.9 815.5 930C816.9 930.1 825.9 934.1 826.8 935C827.6 935.9 829.5 944.1 829.2 945C829 945.9 823.8 949.9 823 950C822.2 950.1 816.4 946.7 815.5 946.2C814.6 945.8 808.8 943.3 808 942.5C807.2 941.7 802.5 933.2 803 932.5Z"/>
<path d="M816.8 950C817.3 949.4 826.1 950.6 826.8 951.2C827.4 951.9 828.5 960.6 828 961.2C827.5 961.9 818.7 961.9 818 961.2C817.3 960.6 816.2 950.6 816.8 950Z"/>
<path d="M890.2 801.2C890.4 800.1 899.9 800.4 901.5 801.2C903.1 802.1 915.4 813.3 916.5 815C917.6 816.7 920 828 920.2 830C920.5 832 921.8 846.7 921.5 847.5C921.2 848.3 916.1 844.5 915.2 843.8C914.4 843 907.5 836.4 906.5 835C905.5 833.6 900 822 899 820C898 818 890.1 802.4 890.2 801.2Z"/>
<path d="M924 802.5C924.3 801.7 929.7 800.5 930.2 801.2C930.8 802 932.4 813.4 932.8 815C933.1 816.6 935.8 826.5 936.5 827.5C937.2 828.5 944.1 831 944 831.2C943.9 831.5 936.1 832.7 935.2 832.5C934.4 832.3 929.6 828.5 929 827.5C928.4 826.5 925.5 816.5 925.2 815C925 813.5 923.7 803.3 924 802.5Z"/>
<path d="M966.5 790C967.2 789.5 980.1 788.6 981.5 788.8C982.9 788.9 988.2 791.7 989 792.5C989.8 793.3 994.1 801.6 994 802.5C993.9 803.4 988.2 806.8 987.8 807.5C987.3 808.2 987 814.2 986.5 815C986 815.8 979.6 820.1 979 820C978.4 819.9 977 813.2 976.5 812.5C976 811.8 972 808.4 971.5 807.5C971 806.6 969.3 798.5 969 797.5C968.7 796.5 965.8 790.5 966.5 790Z"/>
<path d="M971.5 837.5C972.2 837 983.6 841.1 984 842.5C984.4 843.9 978.9 859.2 977.8 860C976.6 860.8 965.6 856.9 965.2 856.2C964.9 855.6 971.1 851.1 971.5 850C971.9 848.9 970.8 838 971.5 837.5Z"/>
<path d="M1011.5 857.5C1010.8 854 1000.4 861.9 999 862.5C997.6 863.1 990.1 866.8 989 867.5C987.9 868.2 980.7 873.6 980.2 875C979.8 876.4 981 888.5 981.5 890C982 891.5 988.1 898.8 989 900C989.9 901.2 995.8 908.8 996.5 910C997.2 911.2 1000.6 919.4 1001.5 920C1002.4 920.6 1010.9 923.8 1011.5 920C1012.1 916.2 1012.2 861 1011.5 857.5Z"/>
<path d="M960.2 872.5C960.2 870.8 964.6 869.6 965.2 871.2C965.9 872.9 970.2 898.3 970.2 900C970.2 901.7 965.9 901.6 965.2 900C964.6 898.4 960.2 874.2 960.2 872.5Z"/>
<path d="M925.2 872.5C925.6 871.7 932.1 870.8 932.8 871.2C933.4 871.7 935.8 879.2 936.5 880C937.2 880.8 943 884.6 944 885C945 885.4 952.2 885.9 952.8 886.2C953.3 886.6 953.6 891 952.8 891.2C951.9 891.5 940.4 889.9 939 890C937.6 890.1 930 892.2 929 892.5C928 892.8 922.2 895.1 921.5 895C920.8 894.9 917.5 890.6 917.8 890C918 889.4 926 886 926.5 885C927 884 924.9 873.3 925.2 872.5Z"/>
<path d="M906.5 868.8C906.9 868.3 913.5 869.3 914 870C914.5 870.7 914.4 879.5 914 880C913.6 880.5 908.2 878.2 907.8 877.5C907.3 876.8 906.1 869.2 906.5 868.8Z"/>
<path d="M904 887.5C904.7 886.8 913.4 885.2 914 886.2C914.6 887.3 914.3 903 914 905C913.7 907 909.8 918.6 909 920C908.2 921.4 902.7 926.9 901.5 927.5C900.3 928.1 890.2 930.1 889 930C887.8 929.9 881.6 925.9 881.5 925C881.4 924.1 885.6 916.2 886.5 915C887.4 913.8 895.5 906 896.5 905C897.5 904 902.3 899.8 902.8 898.8C903.2 897.7 903.3 888.2 904 887.5Z"/>
<path d="M917.8 900C918.4 899.5 925.4 906.5 926.5 907.5C927.6 908.5 935.5 916.3 936.5 917.5C937.5 918.7 943.2 926.6 944 927.5C944.8 928.4 948 932.1 949 932.5C950 932.9 960.7 932 961.5 933.8C962.3 935.5 963.8 959.6 962.8 961.2C961.7 962.9 945.9 961.8 944 961.2C942.1 960.7 932.7 953.6 931.5 952.5C930.3 951.4 924.8 943.9 924 942.5C923.2 941.1 919.5 931.6 919 930C918.5 928.4 916.6 916.8 916.5 915C916.4 913.2 917.1 900.5 917.8 900Z"/>
<path d="M984 935C984.9 934.2 991.2 932 991.5 932.5C991.8 933 989.6 941.5 989 942.5C988.4 943.5 982.2 949.9 981.5 950C980.8 950.1 976.4 945.9 976.5 945C976.6 944.1 983.1 935.8 984 935Z"/>
<path d="M901.5 953.8C902 953.2 908.5 952 909 952.5C909.5 953 910.7 960.7 910.2 961.2C909.8 961.8 902 961.7 901.5 961.2C901 960.8 901 954.3 901.5 953.8Z"/>
</g>
<g fill="none" stroke="#a9c1e1" stroke-linecap="round" stroke-linejoin="round">
<path d="M839 392.2C840.7 391.5 844.8 388.8 849 388C853.2 387.2 859 386.8 864 387.2C869 387.8 874.8 390 879 391C883.2 392 885.2 393.3 889 393.5C892.8 393.7 897.1 392 901.5 392.2C905.9 392.5 911.1 394.2 915.2 395.2C919.4 396.3 922.5 397.1 926.5 398.5C930.5 399.9 935.2 401 939 403.5C942.8 406 945.5 411.6 949 413.5C952.5 415.4 956.5 415.6 960.2 414.8C964 413.9 968.5 412 971.5 408.5C974.5 405 976.4 398.5 978.2 393.5C980.1 388.5 981 383.1 982.8 378.5C984.5 373.9 986.5 369.8 989 366C991.5 362.2 994 358.1 997.8 356C1001.5 353.9 1009.2 353.9 1011.5 353.5" stroke-width="8.5"/>
<path d="M840.2 391C840.7 395.2 836.7 411.4 842.8 416C848.8 420.6 870 420.2 876.5 418.5C883 416.8 879.4 409.5 881.5 406C883.6 402.5 887.8 398.7 889 397.2" stroke-width="2"/>
<path d="M866.5 419.8C868 420 871.9 419.1 875.2 421C878.6 422.9 884.2 427.7 886.5 431C888.8 434.3 889.8 438.1 889 441C888.2 443.9 885.7 447.7 881.5 448.5C877.3 449.3 869.4 446.5 864 446C858.6 445.5 853.2 444.8 849 445.2C844.8 445.7 840.7 448 839 448.5" stroke-width="3"/>
<path d="M839 447C837.8 448.3 833.5 451.7 831.5 455C829.5 458.3 827.6 462.7 827 467C826.4 471.3 828.2 476.5 828 481C827.8 485.5 827.3 490.7 826 494C824.7 497.3 822.2 498.3 820 501C817.8 503.7 815 507.2 812.5 510C810 512.8 807.5 515.4 805 517.5C802.5 519.6 799.3 520.4 797.5 522.5C795.7 524.6 795.2 527.2 794 530C792.8 532.8 790.7 537.5 790 539" stroke-width="5.5"/>
<path d="M790 539C789.6 540.4 789.2 544 787.5 547.5C785.8 551 782.5 555.8 780 560C777.5 564.2 775.2 568.5 772.5 572.5C769.8 576.5 767.6 580.7 764 584C760.4 587.3 755.2 590.2 751 592.5C746.8 594.8 744.2 596.9 739 597.5C733.8 598.1 725.7 595.9 720 596C714.3 596.1 707.5 597.7 705 598" stroke-width="4"/>
<path d="M795 540C797.1 541.7 803.3 547.5 807.5 550C811.7 552.5 815.8 552.5 820 555C824.2 557.5 829 562.1 832.5 565C836 567.9 839.9 570 841 572.5C842.1 575 840.4 577.1 839 580C837.6 582.9 834 586.7 832.5 590C831 593.3 830.1 596.3 830 600C829.9 603.7 831.7 610 832 612" stroke-width="2.5"/>
<path d="M767.5 541C768.3 542.7 770.8 547.8 772.5 551C774.2 554.2 776.7 558.5 777.5 560" stroke-width="1.5"/>
<path d="M868 421 L868.8 443.5" stroke-width="2.5"/>
<path d="M723 369.8C725.5 369.5 732.2 368.5 738 368.5C743.8 368.5 751.8 368.9 758 369.8C764.2 370.6 770.1 371.8 775.5 373.5C780.9 375.2 785.1 378.1 790.5 380.2C795.9 382.4 803 385 808 386.5C813 388 815.5 388.2 820.5 389C825.5 389.8 835.1 391.1 838 391.5" stroke-width="2.5"/>
<path d="M689 461C690.2 462.7 692.3 467.2 696.5 471C700.7 474.8 709.2 479.9 714 483.5C718.8 487.1 721.9 489.6 725 492.5C728.1 495.4 730 498.2 732.5 501C735 503.8 737.7 506.5 740 509C742.3 511.5 745.4 514.8 746.5 516" stroke-width="2.5"/>
<path d="M581.8 464.8C585.3 465 596.1 466.3 603 466.5C609.9 466.7 613.8 466.2 623 466C632.2 465.8 648 465.8 658 465.2C668 464.8 677.2 462 683 463C688.8 464 689.2 468.2 693 471C696.8 473.8 703.4 478.3 705.5 479.8" stroke-width="3.6"/>
<path d="M605.5 468.5C606.5 470.6 610.4 476.4 611.8 481C613.1 485.6 612.5 489.3 613.5 496C614.5 502.7 616.8 510.2 618 521C619.2 531.8 620.1 554.3 620.5 561" stroke-width="2.5"/>
<path d="M620.5 561C620.7 563.5 621.3 568.9 621.8 576C622.2 583.1 621.5 597.9 623 603.5C624.5 609.1 629.9 607.2 630.5 609.8C631.1 612.2 627.4 617 626.8 618.5" stroke-width="3"/>
<path d="M443 358.5C445.1 361 452.2 367.7 455.5 373.5C458.8 379.3 460.9 387.2 463 393.5C465.1 399.8 465.5 404.8 468 411C470.5 417.2 475.7 424.3 478 431C480.3 437.7 480.1 446 481.8 451C483.4 456 484.5 458.7 488 461C491.5 463.3 491.1 463.9 503 464.8C514.9 465.6 549.9 465.8 559.2 466" stroke-width="1.6"/>
<path d="M625.5 606C626.8 606.3 628.4 607.7 633 607.8C637.6 607.8 647.2 607.5 653 606.5C658.8 605.5 663 604 668 601.5C673 599 676.3 592.8 683 591.5C689.7 590.2 699.7 592.3 708 594C716.3 595.7 726.3 601.1 733 601.5C739.7 601.9 743 599.8 748 596.5C753 593.2 757.8 587.6 763 581.5C768.2 575.4 776.5 563.4 779.2 559.8" stroke-width="3.5"/>
<path d="M775.5 573.5C776.5 574.3 780.3 575.6 781.8 578.5C783.2 581.4 784.7 585.6 784.2 591C783.8 596.4 779.7 603.5 779.2 611C778.8 618.5 780.7 628.9 781.8 636C782.8 643.1 784.9 650.6 785.5 653.5" stroke-width="3.5"/>
<path d="M778 561 L773 576" stroke-width="2.5"/>
<path d="M826.8 773.5C827.4 775.6 829.5 781.2 830.5 786C831.5 790.8 832.6 799.5 833 802.2" stroke-width="2.5"/>
<path d="M826.8 770C827.8 774.2 830.7 787.5 833 795C835.3 802.5 837.2 809.2 840.5 815C843.8 820.8 848.8 824.6 853 830C857.2 835.4 862.6 844.2 865.5 847.5C868.4 850.8 869.7 849.6 870.5 850" stroke-width="2.5"/>
<path d="M645.5 802.2C645.3 805.2 644.9 814.1 644.2 820C643.6 825.9 642.7 832.5 641.8 837.5C640.8 842.5 639 847.9 638.5 850" stroke-width="1.2"/>
<path d="M605.5 668.5C606.5 670.2 609.7 674.8 611.8 678.5C613.8 682.2 617.2 685.6 618 691C618.8 696.4 615.9 705.6 616.8 711C617.6 716.4 620.3 719.3 623 723.5C625.7 727.7 630.1 731.4 633 736C635.9 740.6 638.6 744.8 640.5 751C642.4 757.2 643.4 765 644.2 773.5C645.1 782 645.3 797.5 645.5 802.2" stroke-width="2"/>
<path d="M450.5 621.5C451.8 621.7 453.4 621.1 458 622.8C462.6 624.4 471.8 629 478 631.5C484.2 634 492.2 636 495.5 637.8C498.8 639.5 497.6 641.5 498 642.2" stroke-width="2.5"/>
<path d="M831.5 706C833.6 707.2 837.8 709.8 844 713.5C850.2 717.2 861.9 725.2 869 728.5C876.1 731.8 881.9 732.7 886.5 733.5C891.1 734.3 894.8 733.5 896.5 733.5" stroke-width="3"/>
<path d="M932.8 801.2C935.5 801.2 943.8 802.9 949 801.2C954.2 799.6 961.5 792.9 964 791.2" stroke-width="2"/>
<path d="M950.2 802.5 L954 813.8" stroke-width="2"/>
<path d="M992.8 782.5 L994 790" stroke-width="2.5"/>
<path d="M896.5 321C897.3 324.3 899.8 334.3 901.5 341C903.2 347.7 904.8 354.8 906.5 361C908.2 367.2 910.2 373.7 911.5 378.5C912.8 383.3 913.6 387.9 914 389.8" stroke-width="1.2"/>
<path d="M987.8 321 L992.8 338.5" stroke-width="1.5"/>
<path d="M980.5 306 L988 321" stroke-width="2"/>
<path d="M891.8 306 L894.2 321" stroke-width="1.5"/>
<path d="M482.5 120C484.6 121.5 490.8 126.1 495 128.8C499.2 131.5 503.3 133.5 507.5 136C511.7 138.5 515.8 141.2 520 143.8C524.2 146.4 527.7 148.4 532.5 151.3C537.3 154.2 546.1 159.6 548.8 161.3" stroke-width="2.2"/>
<path d="M490 119 L500 128.8" stroke-width="2"/>
<path d="M425 128.8 L438.8 133.8" stroke-width="2.5"/>
<path d="M670.5 299.8C680.9 297.9 714.2 292.5 733 288.5C751.8 284.5 774.7 278.1 783 276" stroke-width="2"/>
</g>
<g fill="#c4deb6">
<polygon points="754.2,657.2 763,644.8 770.5,666 760.5,668.5"/>
<polygon points="804.2,723.5 815.5,722.2 819.2,732.2 810.5,731"/>
<polygon points="815.5,736 820.5,736 821.8,753.5 815.5,751"/>
<polygon points="922.8,734.8 937.8,736 936.5,753.5 929,756"/>
<polygon points="926.5,925 935.2,925 936.5,937.5 927.8,940"/>
<polygon points="946.5,948.8 954,948.8 954,960 946.5,960"/>
<polygon points="786.5,945 791.5,945 792.8,955 787.8,955"/>
<polygon points="824,927.5 830.2,928.8 829,937.5 824,936.2"/>
<polygon points="791.8,152.2 806.8,146 808,148.5 793,156"/>
</g>
<g fill="none">
<path d="M595.5 119.8C601.8 123.7 622.6 137 633 143.5C643.4 150 650.5 154.3 658 158.5C665.5 162.7 669.7 163.9 678 168.5C686.3 173.1 698.8 181 708 186C717.2 191 724.7 195.2 733 198.5C741.3 201.8 749.7 203.9 758 206C766.3 208.1 778.8 210.2 783 211M556.8 301C569.5 300.6 613.2 298.9 633 298.5C652.8 298.1 658.8 301 675.5 298.5C692.2 296 715.1 288.1 733 283.5C750.9 278.9 774.7 273.1 783 271M783 211C785.5 212 791.3 215.4 798 217.2C804.7 219.1 812.6 221 823 222.2C833.4 223.5 850.1 224.8 860.5 224.8C870.9 224.8 877.2 223.7 885.5 222.2C893.8 220.8 902.2 218.3 910.5 216C918.8 213.7 927.2 210.6 935.5 208.5C943.8 206.4 952.2 204.5 960.5 203.5C968.8 202.5 977.2 202.5 985.5 202.2C993.8 202 1006.3 202.2 1010.5 202.2M783 271C785.5 269.8 787.2 267.2 798 263.5C808.8 259.8 831.3 254.3 848 248.5C864.7 242.7 883.4 234.3 898 228.5C912.6 222.7 925.1 217.5 935.5 213.5C945.9 209.5 956.3 206.2 960.5 204.8M425 290C427.1 292.2 433.3 298.8 437.5 303C441.7 307.2 447.1 312.8 450 315.5C452.9 318.2 451.7 318.8 455 319.5C458.3 320.2 464.6 319.6 470 319.8C475.4 320.1 481.4 321.4 487.5 321C493.6 320.6 500.1 318.6 506.3 317.3C512.5 316.1 518.5 315.1 525 313.5C531.5 311.9 539 309.2 545 307.5C551 305.8 558.3 303.8 561 303M595.5 119.8C593 117.5 585.5 110.8 580.5 106C575.5 101.2 568 93.5 565.5 91" stroke="#9a9a9a" stroke-width="1.3"/>
<path d="M595.5 119.8C601.8 123.7 622.6 137 633 143.5C643.4 150 650.5 154.3 658 158.5C665.5 162.7 669.7 163.9 678 168.5C686.3 173.1 698.8 181 708 186C717.2 191 724.7 195.2 733 198.5C741.3 201.8 749.7 203.9 758 206C766.3 208.1 778.8 210.2 783 211M556.8 301C569.5 300.6 613.2 298.9 633 298.5C652.8 298.1 658.8 301 675.5 298.5C692.2 296 715.1 288.1 733 283.5C750.9 278.9 774.7 273.1 783 271M783 211C785.5 212 791.3 215.4 798 217.2C804.7 219.1 812.6 221 823 222.2C833.4 223.5 850.1 224.8 860.5 224.8C870.9 224.8 877.2 223.7 885.5 222.2C893.8 220.8 902.2 218.3 910.5 216C918.8 213.7 927.2 210.6 935.5 208.5C943.8 206.4 952.2 204.5 960.5 203.5C968.8 202.5 977.2 202.5 985.5 202.2C993.8 202 1006.3 202.2 1010.5 202.2M783 271C785.5 269.8 787.2 267.2 798 263.5C808.8 259.8 831.3 254.3 848 248.5C864.7 242.7 883.4 234.3 898 228.5C912.6 222.7 925.1 217.5 935.5 213.5C945.9 209.5 956.3 206.2 960.5 204.8M425 290C427.1 292.2 433.3 298.8 437.5 303C441.7 307.2 447.1 312.8 450 315.5C452.9 318.2 451.7 318.8 455 319.5C458.3 320.2 464.6 319.6 470 319.8C475.4 320.1 481.4 321.4 487.5 321C493.6 320.6 500.1 318.6 506.3 317.3C512.5 316.1 518.5 315.1 525 313.5C531.5 311.9 539 309.2 545 307.5C551 305.8 558.3 303.8 561 303M595.5 119.8C593 117.5 585.5 110.8 580.5 106C575.5 101.2 568 93.5 565.5 91" stroke="#f3f3f3" stroke-width="0.9" stroke-dasharray="4 4"/>
</g>
<path d="M470 133.8C471 131.9 473.9 126 476 122.5C478.1 119 480.2 116.2 482.5 112.5C484.8 108.8 487.6 104.1 490 100C492.4 95.9 495.8 90 497 88M1053 81C1052.3 83.3 1050.2 90.5 1049 95C1047.8 99.5 1046.8 103.7 1046 108C1045.2 112.3 1044.3 118.8 1044 121M1062 104C1064.2 103.9 1071 103.4 1075 103.5C1079 103.6 1084.2 104.3 1086 104.5M1150 88C1154.2 88.7 1166.7 91.7 1175 92C1183.3 92.3 1189.2 89.3 1200 90C1210.8 90.7 1226.7 95.3 1240 96C1253.3 96.7 1273.3 94.3 1280 94M450 292C452.1 292.3 456.2 293.7 462.5 293.8C468.8 293.9 479.2 293.2 487.5 292.5C495.8 291.8 504.2 290.3 512.5 289.4C520.8 288.5 531.5 287.8 537.5 286.9C543.5 286 544.8 283.9 548.8 283.8C552.8 283.7 556.7 285.7 561.3 286.3C565.9 286.9 571.5 287.5 576.3 287.5C581.1 287.5 585.8 286.9 590 286.3C594.2 285.7 599.4 284.2 601.3 283.8M424.4 263.8C426.3 265.8 431.7 271.5 436 276C440.3 280.5 447.7 288.5 450 291M528 121C527.2 126.8 524.2 144.3 523 156C521.8 167.7 520.9 185.2 520.5 191M810.5 269.8C813.4 269.1 817.6 268.7 828 266C838.4 263.3 858 256.8 873 253.5C888 250.2 901.3 249.3 918 246C934.7 242.7 957.6 236.6 973 233.5C988.4 230.4 1004.2 228.3 1010.5 227.2M943 267.2 L945.5 274.8M238 448.5C242.2 450.6 254.7 457.2 263 461C271.3 464.8 278.4 468.5 288 471C297.6 473.5 312.6 475.6 320.5 476C328.4 476.4 333 473.9 335.5 473.5M323 478.5C323.4 483.5 324.7 499.3 325.5 508.5C326.3 517.7 327.4 526 328 533.5C328.6 541 329 550.2 329.2 553.5M357 554.5C358 555 361.7 554.2 363 557.5C364.3 560.8 364.6 566.9 365 574C365.4 581.1 365.4 595.7 365.5 600M753 421 L815.5 420.5M675.5 384.8C680.9 383.9 698.4 380.7 708 379.8C717.6 378.8 728.8 379.1 733 379M745.5 388.5C747.6 389.5 743.4 393.5 758 394.8C772.6 396 815.5 394.5 833 396C850.5 397.5 858 402.2 863 403.5M563 511C566.3 511.4 575.5 512.2 583 513.5C590.5 514.8 602.2 517.2 608 518.5C613.8 519.8 616.3 520.6 618 521M625.5 523.5 L635.5 529.8M854 401C858.2 402.5 871.9 407 879 409.8C886.1 412.5 890.7 415.8 896.5 417.2C902.3 418.7 906.9 418.5 914 418.5C921.1 418.5 931.1 416.6 939 417.2C946.9 417.9 954 420.8 961.5 422.2C969 423.7 975.9 425.8 984 426C992.1 426.2 1005.9 423.9 1010.2 423.5M364.2 559.8C364.5 566.2 364.5 590.8 365.5 598.5C366.5 606.2 365.9 605.2 370.5 606C375.1 606.8 383.4 605.2 393 603.5C402.6 601.8 417.6 598.5 428 596C438.4 593.5 449.2 590.6 455.5 588.5C461.8 586.4 463.2 586 465.5 583.5C467.8 581 465.5 576 469.2 573.5C473 571 484.9 569.3 488 568.5M335.5 614.8C336.8 613.9 340.1 610.8 343 609.8C345.9 608.7 351.3 608.7 353 608.5M528 559.8C527.6 566.2 525.5 586.6 525.5 598.5C525.5 610.4 527.2 623.5 528 631C528.8 638.5 531.3 637.2 530.5 643.5C529.7 649.8 525.9 659.8 523 668.5C520.1 677.2 515.7 688.1 513 696C510.3 703.9 507.6 709.3 506.8 716C505.9 722.7 507.8 732.7 508 736M621.8 559.8C622 564.1 623.7 577.5 623.5 586C623.3 594.5 622.7 602.7 620.5 611C618.3 619.3 613.6 627.7 610.5 636C607.4 644.3 603.4 653.5 601.8 661C600.1 668.5 599.9 674.3 600.5 681C601.1 687.7 603 694.3 605.5 701C608 707.7 611.3 715.2 615.5 721C619.7 726.8 628 733.5 630.5 736M506.8 718.8C507.4 723.1 508.6 736.5 510.5 745C512.4 753.5 515.9 762.1 518 770C520.1 777.9 522.2 785 523 792.5C523.8 800 524.2 807.9 523 815C521.8 822.1 518.8 829.2 515.5 835C512.2 840.8 509.7 844.2 503 850C496.3 855.8 483.4 863.8 475.5 870C467.6 876.2 461.8 880.4 455.5 887.5C449.2 894.6 444.2 905 438 912.5C431.8 920 425.5 926.7 418 932.5C410.5 938.3 400.3 942.7 393 947.5C385.7 952.3 377.4 959 374.2 961.2M633 735C634.7 739.2 640.9 750.8 643 760C645.1 769.2 645.9 777.9 645.5 790C645.1 802.1 642.6 819.2 640.5 832.5C638.4 845.8 635.5 857.1 633 870C630.5 882.9 628 899.2 625.5 910C623 920.8 620.9 926.5 618 935C615.1 943.5 609.7 956.9 608 961.2M839 947.5 L839 961.2" fill="none" stroke="#e8cf8e" stroke-width="2.6" stroke-linecap="round" stroke-linejoin="round"/>
<path d="M252 84C253.7 85.5 258.7 90 262 93C265.3 96 267.5 98.7 272 102C276.5 105.3 284 109 289 113C294 117 299.8 123.8 302 126M353 84C354 86.7 356.8 94.8 359 100C361.2 105.2 363.7 109.8 366 115C368.3 120.2 371.8 128.3 373 131M314 84C311.9 87.3 305.5 98.6 301.5 103.6C297.5 108.6 291.9 112.3 290 114M238 112C240 111.3 246 108.3 250 108C254 107.7 258.3 111 262 110C265.7 109 270.3 103.3 272 102M425.5 129.8C428.8 130.6 439.2 133.9 445.5 134.8C451.8 135.6 455.9 135.2 463 134.8C470.1 134.3 479.7 132.9 488 132.2C496.3 131.6 504.7 131 513 131C521.3 131 530.3 131.2 538 132.2C545.7 133.3 555.7 136.4 559.2 137.2M463 134.8C461.8 137 457.4 143.3 455.5 148.5C453.6 153.7 452.8 160.6 451.8 166C450.7 171.4 450.2 176 449.2 181C448.3 186 446.4 191 446 196C445.6 201 446.4 206 447 211C447.6 216 449.7 221 449.5 226C449.3 231 448.2 236.4 446 241C443.8 245.6 439.4 250.8 436 253.5C432.6 256.2 427.2 256.6 425.5 257.2M446 196C444.7 196.4 441.4 197.6 438 198.5C434.6 199.4 427.6 201 425.5 201.5M238 156C239.7 156.4 244.2 155.2 248 158.5C251.8 161.8 259.7 171.4 260.5 176C261.3 180.6 256.8 185.2 253 186C249.2 186.8 240.5 181.8 238 181M238 168.5C240.5 167.7 248.8 166 253 163.5C257.2 161 261.3 155.2 263 153.5M425 292.5C427.1 294.6 433.3 300.8 437.5 305C441.7 309.2 447.1 314.8 450 317.5C452.9 320.2 451.7 320.7 455 321.3C458.3 321.9 464.6 321.1 470 321.3C475.4 321.5 481.4 322.9 487.5 322.5C493.6 322.1 500.1 320.1 506.3 318.8C512.5 317.6 519.8 316.1 525 315C530.2 313.9 533.3 313.5 537.5 312.5C541.7 311.5 546.1 309.9 550 308.8C553.9 307.7 556.7 306.8 561 306C565.3 305.2 572 304 576 304C580 304 583.5 305.7 585 306M556.8 137.2C561.1 137.2 575.3 135.6 583 137.2C590.7 138.9 595.5 144.3 603 147.2C610.5 150.2 619.2 152.7 628 154.8C636.8 156.8 649.2 158.7 655.5 159.8C661.8 160.8 663.8 160.8 665.5 161M718 81C713.8 87.5 699.7 109.8 693 119.8C686.3 129.8 682.6 134.1 678 141C673.4 147.9 670.1 156 665.5 161C660.9 166 655.9 166.8 650.5 171C645.1 175.2 638.8 180.6 633 186C627.2 191.4 620.1 197.7 615.5 203.5C610.9 209.3 608.4 214.8 605.5 221C602.6 227.2 599.7 234.3 598 241C596.3 247.7 595.7 254.3 595.5 261C595.3 267.7 595.9 274.3 596.8 281C597.6 287.7 599.2 294.1 600.5 301C601.8 307.9 603.6 318.7 604.2 322.2M645.5 81C643.4 87.5 635.5 110.2 633 119.8C630.5 129.3 631.8 130.4 630.5 138.5C629.2 146.6 627.2 159.3 625.5 168.5C623.8 177.7 623.4 186 620.5 193.5C617.6 201 611.3 207.2 608 213.5C604.7 219.8 602.2 223.9 600.5 231C598.8 238.1 598.8 249.3 598 256C597.2 262.7 595.9 268.5 595.5 271M585 306C586.8 307 591.7 310.8 595.5 312.2C599.3 313.7 600.5 315.4 608 314.8C615.5 314.1 628 311.2 640.5 308.5C653 305.8 667.6 302.2 683 298.5C698.4 294.8 716.3 290.2 733 286C749.7 281.8 770.1 276.2 783 273.5C795.9 270.8 805.9 270.4 810.5 269.8M556.8 286C560.3 285.8 571.1 285.6 578 284.8C584.9 283.9 594.7 281.6 598 281M575.5 271C576.3 275.2 578.4 287.7 580.5 296C582.6 304.3 586.8 316.8 588 321M368 358.5C368.4 362.7 369.5 373.1 370.5 383.5C371.5 393.9 373.2 409.8 374.2 421C375.3 432.2 376.1 441.8 376.8 451C377.4 460.2 377.6 468.9 378 476C378.4 483.1 380.1 488.5 379.2 493.5C378.4 498.5 374.5 501.4 373 506C371.5 510.6 371.1 515.6 370.5 521C369.9 526.4 371.3 533.5 369.2 538.5C367.2 543.5 361.5 547.9 358 551C354.5 554.1 349.7 556.2 348 557.2M335.5 473.5C340.9 473.7 358.4 475 368 474.8C377.6 474.5 383 473.9 393 472.2C403 470.6 418.4 466.8 428 464.8C437.6 462.7 445.5 462 450.5 459.8C455.5 457.5 455.9 453.7 458 451C460.1 448.3 459.2 445.6 463 443.5C466.8 441.4 475.1 440 480.5 438.5C485.9 437 490.5 436.8 495.5 434.8C500.5 432.7 504.2 427.9 510.5 426C516.8 424.1 524.9 424.1 533 423.5C541.1 422.9 554.9 422.5 559.2 422.2M238 528.8C239.2 528.3 243.7 526.6 245.5 526C247.3 525.4 248.4 525.2 249 525M249 525C250.1 525.2 253.2 524.3 255.5 526C257.8 527.7 259.7 531.8 263 535C266.3 538.2 269.2 542.2 275.5 545C281.8 547.8 292.2 550.7 300.5 552C308.8 553.3 318.2 552.6 325.5 553C332.8 553.4 339.8 554.2 344 554.5C348.2 554.8 349.4 554.9 350.5 555M240 480C240.1 484.2 239.8 498.3 240.5 505C241.2 511.7 242.6 516.7 244 520C245.4 523.3 248.2 524.2 249 525M348.5 556C348.8 559 349.5 567 350.5 574C351.5 581 353.8 594 354.5 598M453 321C453.8 325.2 456.3 337.7 458 346C459.7 354.3 461.3 362.7 463 371C464.7 379.3 464.7 388.1 468 396C471.3 403.9 478.4 412.2 483 418.5C487.6 424.8 491.3 428.5 495.5 433.5C499.7 438.5 505.3 442.2 508 448.5C510.7 454.8 510.5 463.9 511.8 471C513 478.1 513.6 484.3 515.5 491C517.4 497.7 520.9 503.9 523 511C525.1 518.1 527 525 528 533.5C529 542 529 557.5 529.2 562.2M423 321C423.8 322.7 425.5 329.8 428 331C430.5 332.2 434.2 330.2 438 328.5C441.8 326.8 448.4 322.2 450.5 321M590.5 319.8C592 325 597 340.4 599.2 351C601.5 361.6 603.2 372.7 604.2 383.5C605.3 394.3 605.3 405.6 605.5 416C605.7 426.4 604.7 436.8 605.5 446C606.3 455.2 608.4 460.2 610.5 471C612.6 481.8 615.8 495.8 618 511C620.2 526.2 622.6 553.7 623.5 562.2M605.5 319.8C606.5 325 609.9 338.3 611.8 351C613.6 363.7 615.3 381 616.8 396C618.2 411 618.2 428.5 620.5 441C622.8 453.5 627.2 461.8 630.5 471C633.8 480.2 637.6 486.4 640.5 496C643.4 505.6 646.1 517.5 648 528.5C649.9 539.5 651.1 556.6 651.8 562.2M588 556C599.7 556 635.9 556.2 658 556C680.1 555.8 706 555.5 720.5 554.8C735 554.1 736.8 554 745 552C753.2 550 761.7 545.3 770 543C778.3 540.7 786.7 540 795 538C803.3 536 814.2 533 820 531C825.8 529 826 528.7 830 526C834 523.3 839.4 519.8 844 515C848.6 510.2 853.2 502.3 857.5 497.5C861.8 492.7 866 489.2 870 486C874 482.8 875.8 480.8 881.5 478.5C887.2 476.2 896.5 473.1 904 472C911.5 470.9 919 471.3 926.5 472C934 472.7 941.9 474.5 949 476C956.1 477.5 962.3 478.5 969 481C975.7 483.5 982.2 488.5 989 491C995.8 493.5 1006.5 495.2 1010 496M820.5 319.8C820.7 326.2 821.3 345.8 821.8 358.5C822.2 371.2 822.6 385.6 823 396C823.4 406.4 822.6 413.9 824.2 421C825.9 428.1 829.9 432.7 833 438.5C836.1 444.3 841.3 449.8 843 456C844.7 462.2 843.8 470.2 843 476C842.2 481.8 838.8 488.5 838 491M1010.2 381C1007.1 384.3 996.7 394.8 991.5 401C986.3 407.2 981.9 412.7 979 418.5C976.1 424.3 975.2 428.9 974 436C972.8 443.1 972.3 453.5 971.5 461C970.7 468.5 969.6 473.1 969 481C968.4 488.9 967.5 498.9 967.8 508.5C968 518.1 969.4 529.5 970.2 538.5C971.1 547.5 972.3 558.3 972.8 562.2M954 476C956.5 477.7 964 484.8 969 486C974 487.2 981.5 483.9 984 483.5M959 486C960.7 484.3 965.7 476.8 969 476C972.3 475.2 977.3 480.2 979 481M249 525C251.3 527.3 258.6 534.8 263 539C267.4 543.2 271.8 545.7 275.5 550C279.2 554.3 282.6 560.7 285.5 565C288.4 569.3 290.1 572 293 576C295.9 580 299.7 585.4 303 589C306.3 592.6 310.3 595.7 313 597.5C315.7 599.3 315.7 598.8 319 600C322.3 601.2 330.7 604 333 604.8M333 604.8C336.3 605.6 346.3 607.7 353 609.8C359.7 611.8 366.3 616 373 617.2C379.7 618.5 383.8 618.1 393 617.2C402.2 616.4 416.3 613.5 428 612.2C439.7 611 453 611 463 609.8C473 608.5 480.5 607.5 488 604.8C495.5 602 501.8 597.5 508 593.5C514.2 589.5 520.5 584.3 525.5 581C530.5 577.7 532.4 575.4 538 573.5C543.6 571.6 555.7 570.4 559.2 569.8M649.2 559.8C649.5 564.1 649.7 577.5 650.5 586C651.3 594.5 652.6 602.7 654.2 611C655.9 619.3 659.2 625.6 660.5 636C661.8 646.4 661.5 661 661.8 673.5C662 686 661.3 701.4 661.8 711C662.2 720.6 663.8 727.7 664.2 731M556.8 571C559.5 570.2 567.8 567.9 573 566C578.2 564.1 585.5 560.8 588 559.8M974 559.8C973.6 564.1 973.2 576.6 971.5 586C969.8 595.4 966.3 606.8 964 616C961.7 625.2 961.1 632.2 957.8 641C954.4 649.8 948.8 660.2 944 668.5C939.2 676.8 933 683.5 929 691C925 698.5 921.7 709.8 920.2 713.5M516.8 836.2C518.6 836.8 520.9 838.8 528 839.5C535.1 840.2 554 840.3 559.2 840.5M548 792.5C547.6 800.4 546.3 827.1 545.5 840C544.7 852.9 543.8 856.7 543 870C542.2 883.3 541.1 904.8 540.5 920C539.9 935.2 539.5 954.4 539.2 961.2M539.2 957.5 L559.2 955M663 718.8C663.8 723.1 667 736.5 668 745C669 753.5 669.7 760.4 669.2 770C668.8 779.6 667.2 793.3 665.5 802.5C663.8 811.7 660.7 816.7 659.2 825C657.8 833.3 657 840.8 656.8 852.5C656.5 864.2 658.4 882.5 658 895C657.6 907.5 655.3 920 654.2 927.5C653.2 935 652.4 934.4 651.8 940C651.1 945.6 650.7 957.7 650.5 961.2M640.5 945C642.4 943.3 648.8 935 651.8 935C654.7 935 657 943.3 658 945M643 935C644.5 936.7 648.4 944.6 651.8 945C655.1 945.4 661.1 938.8 663 937.5M920.2 713.5C919.7 715.8 917.8 722.2 917 727.5C916.2 732.8 915.3 737.1 915.2 745C915.2 752.9 915.5 765.4 916.5 775C917.5 784.6 920.9 792.9 921.5 802.5C922.1 812.1 920.9 822.9 920.2 832.5C919.6 842.1 918.4 849.6 917.8 860C917.1 870.4 917.3 885 916.5 895C915.7 905 914 913.3 912.8 920C911.5 926.7 909.6 928.1 909 935C908.4 941.9 909 956.9 909 961.2M899 927.5C900.7 929.2 905.2 937.1 909 937.5C912.8 937.9 919.4 931.2 921.5 930M899 942.5C900.7 941.2 905.7 935 909 935C912.3 935 917.3 941.2 919 942.5" fill="none" stroke="#e4ab3c" stroke-width="2.8" stroke-linecap="round" stroke-linejoin="round"/>
<path d="M425.5 243.5C427.6 245.6 433 252.2 438 256C443 259.8 448.8 263.5 455.5 266C462.2 268.5 470.5 270 478 271C485.5 272 487 272 500.5 272.2C514 272.5 549.5 272.2 559.2 272.2M665.5 163.5C666.8 165.2 668.4 170.6 673 173.5C677.6 176.4 685.1 177.5 693 181C700.9 184.5 709.7 190.6 720.5 194.8C731.3 198.9 747.6 202.9 758 206C768.4 209.1 775.9 211.4 783 213.5C790.1 215.6 797 215.6 800.5 218.5C804 221.4 803 225.6 804.2 231C805.5 236.4 806.5 243.5 808 251C809.5 258.5 811.3 267.7 813 276C814.7 284.3 816.7 293.3 818 301C819.3 308.7 820.5 318.7 821 322.2M556.8 273.5C560.3 274.3 568.2 277.5 578 278.5C587.8 279.5 605.1 279.8 615.5 279.8C625.9 279.8 629.2 280.2 640.5 278.5C651.8 276.8 667.6 272.9 683 269.8C698.4 266.6 720.5 262.5 733 259.8C745.5 257 749.7 256.2 758 253.5C766.3 250.8 778.8 245.2 783 243.5M783 243.5C785.5 242.2 791.3 238.5 798 236C804.7 233.5 814.7 230 823 228.5C831.3 227 839.7 226.4 848 227.2C856.3 228.1 865.5 230.8 873 233.5C880.5 236.2 887.2 240.2 893 243.5C898.8 246.8 902.2 250.6 908 253.5C913.8 256.4 920.5 259.1 928 261C935.5 262.9 939.2 263.3 953 264.8C966.8 266.2 1000.9 268.9 1010.5 269.8M556.8 421C564.9 420.2 588.6 417.9 605.5 416C622.4 414.1 647.2 410.9 658 409.8C668.8 408.6 665.5 408.4 670.5 409C675.5 409.6 682.2 411.5 688 413.5C693.8 415.5 698 419.5 705.5 421C713 422.5 725.1 422.2 733 422.2C740.9 422.2 749.7 421.2 753 421M556.8 841.2C561.1 841.5 572.4 841.7 583 842.5C593.6 843.3 608 844.6 620.5 846.2C633 847.9 647.6 850.8 658 852.5C668.4 854.2 670.5 856 683 856.2C695.5 856.5 716.3 853.8 733 853.8C749.7 853.8 766.3 855.6 783 856.2C799.7 856.9 820.5 857.7 833 857.5C845.5 857.3 853.8 855.4 858 855M556.8 953.8C561.1 953.1 572.4 951.7 583 950C593.6 948.3 609 945.6 620.5 943.8C632 941.9 643.4 940.2 651.8 938.8C660.1 937.3 662.8 936 670.5 935C678.2 934 689.7 932.5 698 932.5C706.3 932.5 710.5 934.4 720.5 935C730.5 935.6 745.5 936 758 936.2C770.5 936.5 785.1 935.4 795.5 936.2C805.9 937.1 816.3 940.4 820.5 941.2M858 855C861.1 854.5 871.3 851.6 876.5 852C881.7 852.4 883.6 855.3 889 857.5C894.4 859.7 897.8 862.9 909 865C920.2 867.1 948.6 869.2 956.5 870M821.5 941.2C825.2 941 830.7 940 844 939.5C857.3 939 889.8 938.7 901.5 938C913.2 937.3 907.8 936.6 914 935.5C920.2 934.4 930.7 931.8 939 931.2C947.3 930.8 955.7 932.5 964 932.5C972.3 932.5 981.3 932 989 931.2C996.7 930.5 1006.7 928.5 1010.2 928" fill="none" stroke="#e4ab3c" stroke-width="3.4" stroke-linecap="round" stroke-linejoin="round"/>
<path d="M470 133.8C471 131.9 473.9 126 476 122.5C478.1 119 480.2 116.2 482.5 112.5C484.8 108.8 487.6 104.1 490 100C492.4 95.9 495.8 90 497 88M1053 81C1052.3 83.3 1050.2 90.5 1049 95C1047.8 99.5 1046.8 103.7 1046 108C1045.2 112.3 1044.3 118.8 1044 121M1062 104C1064.2 103.9 1071 103.4 1075 103.5C1079 103.6 1084.2 104.3 1086 104.5M1150 88C1154.2 88.7 1166.7 91.7 1175 92C1183.3 92.3 1189.2 89.3 1200 90C1210.8 90.7 1226.7 95.3 1240 96C1253.3 96.7 1273.3 94.3 1280 94M450 292C452.1 292.3 456.2 293.7 462.5 293.8C468.8 293.9 479.2 293.2 487.5 292.5C495.8 291.8 504.2 290.3 512.5 289.4C520.8 288.5 531.5 287.8 537.5 286.9C543.5 286 544.8 283.9 548.8 283.8C552.8 283.7 556.7 285.7 561.3 286.3C565.9 286.9 571.5 287.5 576.3 287.5C581.1 287.5 585.8 286.9 590 286.3C594.2 285.7 599.4 284.2 601.3 283.8M424.4 263.8C426.3 265.8 431.7 271.5 436 276C440.3 280.5 447.7 288.5 450 291M528 121C527.2 126.8 524.2 144.3 523 156C521.8 167.7 520.9 185.2 520.5 191M810.5 269.8C813.4 269.1 817.6 268.7 828 266C838.4 263.3 858 256.8 873 253.5C888 250.2 901.3 249.3 918 246C934.7 242.7 957.6 236.6 973 233.5C988.4 230.4 1004.2 228.3 1010.5 227.2M943 267.2 L945.5 274.8M238 448.5C242.2 450.6 254.7 457.2 263 461C271.3 464.8 278.4 468.5 288 471C297.6 473.5 312.6 475.6 320.5 476C328.4 476.4 333 473.9 335.5 473.5M323 478.5C323.4 483.5 324.7 499.3 325.5 508.5C326.3 517.7 327.4 526 328 533.5C328.6 541 329 550.2 329.2 553.5M357 554.5C358 555 361.7 554.2 363 557.5C364.3 560.8 364.6 566.9 365 574C365.4 581.1 365.4 595.7 365.5 600M753 421 L815.5 420.5M675.5 384.8C680.9 383.9 698.4 380.7 708 379.8C717.6 378.8 728.8 379.1 733 379M745.5 388.5C747.6 389.5 743.4 393.5 758 394.8C772.6 396 815.5 394.5 833 396C850.5 397.5 858 402.2 863 403.5M563 511C566.3 511.4 575.5 512.2 583 513.5C590.5 514.8 602.2 517.2 608 518.5C613.8 519.8 616.3 520.6 618 521M625.5 523.5 L635.5 529.8M854 401C858.2 402.5 871.9 407 879 409.8C886.1 412.5 890.7 415.8 896.5 417.2C902.3 418.7 906.9 418.5 914 418.5C921.1 418.5 931.1 416.6 939 417.2C946.9 417.9 954 420.8 961.5 422.2C969 423.7 975.9 425.8 984 426C992.1 426.2 1005.9 423.9 1010.2 423.5M364.2 559.8C364.5 566.2 364.5 590.8 365.5 598.5C366.5 606.2 365.9 605.2 370.5 606C375.1 606.8 383.4 605.2 393 603.5C402.6 601.8 417.6 598.5 428 596C438.4 593.5 449.2 590.6 455.5 588.5C461.8 586.4 463.2 586 465.5 583.5C467.8 581 465.5 576 469.2 573.5C473 571 484.9 569.3 488 568.5M335.5 614.8C336.8 613.9 340.1 610.8 343 609.8C345.9 608.7 351.3 608.7 353 608.5M528 559.8C527.6 566.2 525.5 586.6 525.5 598.5C525.5 610.4 527.2 623.5 528 631C528.8 638.5 531.3 637.2 530.5 643.5C529.7 649.8 525.9 659.8 523 668.5C520.1 677.2 515.7 688.1 513 696C510.3 703.9 507.6 709.3 506.8 716C505.9 722.7 507.8 732.7 508 736M621.8 559.8C622 564.1 623.7 577.5 623.5 586C623.3 594.5 622.7 602.7 620.5 611C618.3 619.3 613.6 627.7 610.5 636C607.4 644.3 603.4 653.5 601.8 661C600.1 668.5 599.9 674.3 600.5 681C601.1 687.7 603 694.3 605.5 701C608 707.7 611.3 715.2 615.5 721C619.7 726.8 628 733.5 630.5 736M506.8 718.8C507.4 723.1 508.6 736.5 510.5 745C512.4 753.5 515.9 762.1 518 770C520.1 777.9 522.2 785 523 792.5C523.8 800 524.2 807.9 523 815C521.8 822.1 518.8 829.2 515.5 835C512.2 840.8 509.7 844.2 503 850C496.3 855.8 483.4 863.8 475.5 870C467.6 876.2 461.8 880.4 455.5 887.5C449.2 894.6 444.2 905 438 912.5C431.8 920 425.5 926.7 418 932.5C410.5 938.3 400.3 942.7 393 947.5C385.7 952.3 377.4 959 374.2 961.2M633 735C634.7 739.2 640.9 750.8 643 760C645.1 769.2 645.9 777.9 645.5 790C645.1 802.1 642.6 819.2 640.5 832.5C638.4 845.8 635.5 857.1 633 870C630.5 882.9 628 899.2 625.5 910C623 920.8 620.9 926.5 618 935C615.1 943.5 609.7 956.9 608 961.2M839 947.5 L839 961.2" fill="none" stroke="#fdeeb8" stroke-width="1.6" stroke-linecap="round" stroke-linejoin="round"/>
<path d="M252 84C253.7 85.5 258.7 90 262 93C265.3 96 267.5 98.7 272 102C276.5 105.3 284 109 289 113C294 117 299.8 123.8 302 126M353 84C354 86.7 356.8 94.8 359 100C361.2 105.2 363.7 109.8 366 115C368.3 120.2 371.8 128.3 373 131M314 84C311.9 87.3 305.5 98.6 301.5 103.6C297.5 108.6 291.9 112.3 290 114M238 112C240 111.3 246 108.3 250 108C254 107.7 258.3 111 262 110C265.7 109 270.3 103.3 272 102M425.5 129.8C428.8 130.6 439.2 133.9 445.5 134.8C451.8 135.6 455.9 135.2 463 134.8C470.1 134.3 479.7 132.9 488 132.2C496.3 131.6 504.7 131 513 131C521.3 131 530.3 131.2 538 132.2C545.7 133.3 555.7 136.4 559.2 137.2M463 134.8C461.8 137 457.4 143.3 455.5 148.5C453.6 153.7 452.8 160.6 451.8 166C450.7 171.4 450.2 176 449.2 181C448.3 186 446.4 191 446 196C445.6 201 446.4 206 447 211C447.6 216 449.7 221 449.5 226C449.3 231 448.2 236.4 446 241C443.8 245.6 439.4 250.8 436 253.5C432.6 256.2 427.2 256.6 425.5 257.2M446 196C444.7 196.4 441.4 197.6 438 198.5C434.6 199.4 427.6 201 425.5 201.5M238 156C239.7 156.4 244.2 155.2 248 158.5C251.8 161.8 259.7 171.4 260.5 176C261.3 180.6 256.8 185.2 253 186C249.2 186.8 240.5 181.8 238 181M238 168.5C240.5 167.7 248.8 166 253 163.5C257.2 161 261.3 155.2 263 153.5M425 292.5C427.1 294.6 433.3 300.8 437.5 305C441.7 309.2 447.1 314.8 450 317.5C452.9 320.2 451.7 320.7 455 321.3C458.3 321.9 464.6 321.1 470 321.3C475.4 321.5 481.4 322.9 487.5 322.5C493.6 322.1 500.1 320.1 506.3 318.8C512.5 317.6 519.8 316.1 525 315C530.2 313.9 533.3 313.5 537.5 312.5C541.7 311.5 546.1 309.9 550 308.8C553.9 307.7 556.7 306.8 561 306C565.3 305.2 572 304 576 304C580 304 583.5 305.7 585 306M556.8 137.2C561.1 137.2 575.3 135.6 583 137.2C590.7 138.9 595.5 144.3 603 147.2C610.5 150.2 619.2 152.7 628 154.8C636.8 156.8 649.2 158.7 655.5 159.8C661.8 160.8 663.8 160.8 665.5 161M718 81C713.8 87.5 699.7 109.8 693 119.8C686.3 129.8 682.6 134.1 678 141C673.4 147.9 670.1 156 665.5 161C660.9 166 655.9 166.8 650.5 171C645.1 175.2 638.8 180.6 633 186C627.2 191.4 620.1 197.7 615.5 203.5C610.9 209.3 608.4 214.8 605.5 221C602.6 227.2 599.7 234.3 598 241C596.3 247.7 595.7 254.3 595.5 261C595.3 267.7 595.9 274.3 596.8 281C597.6 287.7 599.2 294.1 600.5 301C601.8 307.9 603.6 318.7 604.2 322.2M645.5 81C643.4 87.5 635.5 110.2 633 119.8C630.5 129.3 631.8 130.4 630.5 138.5C629.2 146.6 627.2 159.3 625.5 168.5C623.8 177.7 623.4 186 620.5 193.5C617.6 201 611.3 207.2 608 213.5C604.7 219.8 602.2 223.9 600.5 231C598.8 238.1 598.8 249.3 598 256C597.2 262.7 595.9 268.5 595.5 271M585 306C586.8 307 591.7 310.8 595.5 312.2C599.3 313.7 600.5 315.4 608 314.8C615.5 314.1 628 311.2 640.5 308.5C653 305.8 667.6 302.2 683 298.5C698.4 294.8 716.3 290.2 733 286C749.7 281.8 770.1 276.2 783 273.5C795.9 270.8 805.9 270.4 810.5 269.8M556.8 286C560.3 285.8 571.1 285.6 578 284.8C584.9 283.9 594.7 281.6 598 281M575.5 271C576.3 275.2 578.4 287.7 580.5 296C582.6 304.3 586.8 316.8 588 321M368 358.5C368.4 362.7 369.5 373.1 370.5 383.5C371.5 393.9 373.2 409.8 374.2 421C375.3 432.2 376.1 441.8 376.8 451C377.4 460.2 377.6 468.9 378 476C378.4 483.1 380.1 488.5 379.2 493.5C378.4 498.5 374.5 501.4 373 506C371.5 510.6 371.1 515.6 370.5 521C369.9 526.4 371.3 533.5 369.2 538.5C367.2 543.5 361.5 547.9 358 551C354.5 554.1 349.7 556.2 348 557.2M335.5 473.5C340.9 473.7 358.4 475 368 474.8C377.6 474.5 383 473.9 393 472.2C403 470.6 418.4 466.8 428 464.8C437.6 462.7 445.5 462 450.5 459.8C455.5 457.5 455.9 453.7 458 451C460.1 448.3 459.2 445.6 463 443.5C466.8 441.4 475.1 440 480.5 438.5C485.9 437 490.5 436.8 495.5 434.8C500.5 432.7 504.2 427.9 510.5 426C516.8 424.1 524.9 424.1 533 423.5C541.1 422.9 554.9 422.5 559.2 422.2M238 528.8C239.2 528.3 243.7 526.6 245.5 526C247.3 525.4 248.4 525.2 249 525M249 525C250.1 525.2 253.2 524.3 255.5 526C257.8 527.7 259.7 531.8 263 535C266.3 538.2 269.2 542.2 275.5 545C281.8 547.8 292.2 550.7 300.5 552C308.8 553.3 318.2 552.6 325.5 553C332.8 553.4 339.8 554.2 344 554.5C348.2 554.8 349.4 554.9 350.5 555M240 480C240.1 484.2 239.8 498.3 240.5 505C241.2 511.7 242.6 516.7 244 520C245.4 523.3 248.2 524.2 249 525M348.5 556C348.8 559 349.5 567 350.5 574C351.5 581 353.8 594 354.5 598M453 321C453.8 325.2 456.3 337.7 458 346C459.7 354.3 461.3 362.7 463 371C464.7 379.3 464.7 388.1 468 396C471.3 403.9 478.4 412.2 483 418.5C487.6 424.8 491.3 428.5 495.5 433.5C499.7 438.5 505.3 442.2 508 448.5C510.7 454.8 510.5 463.9 511.8 471C513 478.1 513.6 484.3 515.5 491C517.4 497.7 520.9 503.9 523 511C525.1 518.1 527 525 528 533.5C529 542 529 557.5 529.2 562.2M423 321C423.8 322.7 425.5 329.8 428 331C430.5 332.2 434.2 330.2 438 328.5C441.8 326.8 448.4 322.2 450.5 321M590.5 319.8C592 325 597 340.4 599.2 351C601.5 361.6 603.2 372.7 604.2 383.5C605.3 394.3 605.3 405.6 605.5 416C605.7 426.4 604.7 436.8 605.5 446C606.3 455.2 608.4 460.2 610.5 471C612.6 481.8 615.8 495.8 618 511C620.2 526.2 622.6 553.7 623.5 562.2M605.5 319.8C606.5 325 609.9 338.3 611.8 351C613.6 363.7 615.3 381 616.8 396C618.2 411 618.2 428.5 620.5 441C622.8 453.5 627.2 461.8 630.5 471C633.8 480.2 637.6 486.4 640.5 496C643.4 505.6 646.1 517.5 648 528.5C649.9 539.5 651.1 556.6 651.8 562.2M588 556C599.7 556 635.9 556.2 658 556C680.1 555.8 706 555.5 720.5 554.8C735 554.1 736.8 554 745 552C753.2 550 761.7 545.3 770 543C778.3 540.7 786.7 540 795 538C803.3 536 814.2 533 820 531C825.8 529 826 528.7 830 526C834 523.3 839.4 519.8 844 515C848.6 510.2 853.2 502.3 857.5 497.5C861.8 492.7 866 489.2 870 486C874 482.8 875.8 480.8 881.5 478.5C887.2 476.2 896.5 473.1 904 472C911.5 470.9 919 471.3 926.5 472C934 472.7 941.9 474.5 949 476C956.1 477.5 962.3 478.5 969 481C975.7 483.5 982.2 488.5 989 491C995.8 493.5 1006.5 495.2 1010 496M820.5 319.8C820.7 326.2 821.3 345.8 821.8 358.5C822.2 371.2 822.6 385.6 823 396C823.4 406.4 822.6 413.9 824.2 421C825.9 428.1 829.9 432.7 833 438.5C836.1 444.3 841.3 449.8 843 456C844.7 462.2 843.8 470.2 843 476C842.2 481.8 838.8 488.5 838 491M1010.2 381C1007.1 384.3 996.7 394.8 991.5 401C986.3 407.2 981.9 412.7 979 418.5C976.1 424.3 975.2 428.9 974 436C972.8 443.1 972.3 453.5 971.5 461C970.7 468.5 969.6 473.1 969 481C968.4 488.9 967.5 498.9 967.8 508.5C968 518.1 969.4 529.5 970.2 538.5C971.1 547.5 972.3 558.3 972.8 562.2M954 476C956.5 477.7 964 484.8 969 486C974 487.2 981.5 483.9 984 483.5M959 486C960.7 484.3 965.7 476.8 969 476C972.3 475.2 977.3 480.2 979 481M249 525C251.3 527.3 258.6 534.8 263 539C267.4 543.2 271.8 545.7 275.5 550C279.2 554.3 282.6 560.7 285.5 565C288.4 569.3 290.1 572 293 576C295.9 580 299.7 585.4 303 589C306.3 592.6 310.3 595.7 313 597.5C315.7 599.3 315.7 598.8 319 600C322.3 601.2 330.7 604 333 604.8M333 604.8C336.3 605.6 346.3 607.7 353 609.8C359.7 611.8 366.3 616 373 617.2C379.7 618.5 383.8 618.1 393 617.2C402.2 616.4 416.3 613.5 428 612.2C439.7 611 453 611 463 609.8C473 608.5 480.5 607.5 488 604.8C495.5 602 501.8 597.5 508 593.5C514.2 589.5 520.5 584.3 525.5 581C530.5 577.7 532.4 575.4 538 573.5C543.6 571.6 555.7 570.4 559.2 569.8M649.2 559.8C649.5 564.1 649.7 577.5 650.5 586C651.3 594.5 652.6 602.7 654.2 611C655.9 619.3 659.2 625.6 660.5 636C661.8 646.4 661.5 661 661.8 673.5C662 686 661.3 701.4 661.8 711C662.2 720.6 663.8 727.7 664.2 731M556.8 571C559.5 570.2 567.8 567.9 573 566C578.2 564.1 585.5 560.8 588 559.8M974 559.8C973.6 564.1 973.2 576.6 971.5 586C969.8 595.4 966.3 606.8 964 616C961.7 625.2 961.1 632.2 957.8 641C954.4 649.8 948.8 660.2 944 668.5C939.2 676.8 933 683.5 929 691C925 698.5 921.7 709.8 920.2 713.5M516.8 836.2C518.6 836.8 520.9 838.8 528 839.5C535.1 840.2 554 840.3 559.2 840.5M548 792.5C547.6 800.4 546.3 827.1 545.5 840C544.7 852.9 543.8 856.7 543 870C542.2 883.3 541.1 904.8 540.5 920C539.9 935.2 539.5 954.4 539.2 961.2M539.2 957.5 L559.2 955M663 718.8C663.8 723.1 667 736.5 668 745C669 753.5 669.7 760.4 669.2 770C668.8 779.6 667.2 793.3 665.5 802.5C663.8 811.7 660.7 816.7 659.2 825C657.8 833.3 657 840.8 656.8 852.5C656.5 864.2 658.4 882.5 658 895C657.6 907.5 655.3 920 654.2 927.5C653.2 935 652.4 934.4 651.8 940C651.1 945.6 650.7 957.7 650.5 961.2M640.5 945C642.4 943.3 648.8 935 651.8 935C654.7 935 657 943.3 658 945M643 935C644.5 936.7 648.4 944.6 651.8 945C655.1 945.4 661.1 938.8 663 937.5M920.2 713.5C919.7 715.8 917.8 722.2 917 727.5C916.2 732.8 915.3 737.1 915.2 745C915.2 752.9 915.5 765.4 916.5 775C917.5 784.6 920.9 792.9 921.5 802.5C922.1 812.1 920.9 822.9 920.2 832.5C919.6 842.1 918.4 849.6 917.8 860C917.1 870.4 917.3 885 916.5 895C915.7 905 914 913.3 912.8 920C911.5 926.7 909.6 928.1 909 935C908.4 941.9 909 956.9 909 961.2M899 927.5C900.7 929.2 905.2 937.1 909 937.5C912.8 937.9 919.4 931.2 921.5 930M899 942.5C900.7 941.2 905.7 935 909 935C912.3 935 917.3 941.2 919 942.5" fill="none" stroke="#fbcf58" stroke-width="1.9" stroke-linecap="round" stroke-linejoin="round"/>
<path d="M425.5 243.5C427.6 245.6 433 252.2 438 256C443 259.8 448.8 263.5 455.5 266C462.2 268.5 470.5 270 478 271C485.5 272 487 272 500.5 272.2C514 272.5 549.5 272.2 559.2 272.2M665.5 163.5C666.8 165.2 668.4 170.6 673 173.5C677.6 176.4 685.1 177.5 693 181C700.9 184.5 709.7 190.6 720.5 194.8C731.3 198.9 747.6 202.9 758 206C768.4 209.1 775.9 211.4 783 213.5C790.1 215.6 797 215.6 800.5 218.5C804 221.4 803 225.6 804.2 231C805.5 236.4 806.5 243.5 808 251C809.5 258.5 811.3 267.7 813 276C814.7 284.3 816.7 293.3 818 301C819.3 308.7 820.5 318.7 821 322.2M556.8 273.5C560.3 274.3 568.2 277.5 578 278.5C587.8 279.5 605.1 279.8 615.5 279.8C625.9 279.8 629.2 280.2 640.5 278.5C651.8 276.8 667.6 272.9 683 269.8C698.4 266.6 720.5 262.5 733 259.8C745.5 257 749.7 256.2 758 253.5C766.3 250.8 778.8 245.2 783 243.5M783 243.5C785.5 242.2 791.3 238.5 798 236C804.7 233.5 814.7 230 823 228.5C831.3 227 839.7 226.4 848 227.2C856.3 228.1 865.5 230.8 873 233.5C880.5 236.2 887.2 240.2 893 243.5C898.8 246.8 902.2 250.6 908 253.5C913.8 256.4 920.5 259.1 928 261C935.5 262.9 939.2 263.3 953 264.8C966.8 266.2 1000.9 268.9 1010.5 269.8M556.8 421C564.9 420.2 588.6 417.9 605.5 416C622.4 414.1 647.2 410.9 658 409.8C668.8 408.6 665.5 408.4 670.5 409C675.5 409.6 682.2 411.5 688 413.5C693.8 415.5 698 419.5 705.5 421C713 422.5 725.1 422.2 733 422.2C740.9 422.2 749.7 421.2 753 421M556.8 841.2C561.1 841.5 572.4 841.7 583 842.5C593.6 843.3 608 844.6 620.5 846.2C633 847.9 647.6 850.8 658 852.5C668.4 854.2 670.5 856 683 856.2C695.5 856.5 716.3 853.8 733 853.8C749.7 853.8 766.3 855.6 783 856.2C799.7 856.9 820.5 857.7 833 857.5C845.5 857.3 853.8 855.4 858 855M556.8 953.8C561.1 953.1 572.4 951.7 583 950C593.6 948.3 609 945.6 620.5 943.8C632 941.9 643.4 940.2 651.8 938.8C660.1 937.3 662.8 936 670.5 935C678.2 934 689.7 932.5 698 932.5C706.3 932.5 710.5 934.4 720.5 935C730.5 935.6 745.5 936 758 936.2C770.5 936.5 785.1 935.4 795.5 936.2C805.9 937.1 816.3 940.4 820.5 941.2M858 855C861.1 854.5 871.3 851.6 876.5 852C881.7 852.4 883.6 855.3 889 857.5C894.4 859.7 897.8 862.9 909 865C920.2 867.1 948.6 869.2 956.5 870M821.5 941.2C825.2 941 830.7 940 844 939.5C857.3 939 889.8 938.7 901.5 938C913.2 937.3 907.8 936.6 914 935.5C920.2 934.4 930.7 931.8 939 931.2C947.3 930.8 955.7 932.5 964 932.5C972.3 932.5 981.3 932 989 931.2C996.7 930.5 1006.7 928.5 1010.2 928" fill="none" stroke="#fbcf58" stroke-width="2.4" stroke-linecap="round" stroke-linejoin="round"/>
<g fill="none" stroke-width="1.3" stroke-linejoin="round" stroke-linecap="round">
<path d="M514 153.5C512.9 153.8 504.4 154.8 503 156C501.6 157.2 500.5 161 500.5 166C500.5 171 502.2 199.5 503 206C503.8 212.5 507.2 227.3 508 231C508.8 234.7 510.1 240.8 510.5 243C510.9 245.2 512.5 250.3 512.5 252.5C512.5 254.7 510.4 262.8 510 265C509.6 267.2 508.6 272.5 508.8 275C509.1 277.5 511.8 287.2 512.5 290C513.2 292.8 514.8 300.4 516 302.5C517.2 304.6 523.7 309.5 525 311C526.3 312.5 528.2 316.5 529 317.5C529.8 318.5 532.6 320.6 533 321" stroke="#2f7de8"/>
<path d="M533 319.8C533.9 320.9 540.2 325.9 541.8 331C543.2 336.1 546.8 363.2 548 371C549.2 378.8 553.1 400.9 554.2 408.5C555.4 416.1 558.8 443.4 559.2 447.2" stroke="#2f7de8"/>
<path d="M558 446C558.2 448.5 560.2 465 560.5 471C560.8 477 560.2 499.8 560.5 506C560.8 512.2 562.4 527.9 563 533.5C563.6 539.1 566.4 559.4 566.8 562.2" stroke="#2f7de8"/>
<path d="M500.5 559.8C500.4 562.4 498.6 581.4 499.2 586C499.9 590.6 506 601.8 506.8 606C507.5 610.2 510.8 625.8 506.8 628.5C502.8 631.2 470.8 633 466.8 633.5" stroke="#2f7de8"/>
<path d="M563 571C563.5 572.5 566.5 582 568 586C569.5 590 576.6 606 578 611C579.4 616 581.8 631 581.8 636C581.8 641 580.5 658.4 578 661C575.5 663.6 558.9 662.1 556.8 662.2" stroke="#2f7de8"/>
<path d="M556.8 744.8C559.4 744.4 575.9 742.2 583 741C590.1 739.8 617 733.2 628 732.2C639 731.3 686.5 731.6 693 731.5" stroke="#2f7de8"/>
<path d="M559.2 662.2C558.1 662.5 549.8 663.1 548 664.8C546.2 666.4 543.2 674.6 541.8 678.5C540.2 682.4 533.6 699 533 703.5C532.4 708 535.1 719.9 535.5 723.5C535.9 727.1 535.8 737.6 536.8 739.8C537.8 741.9 543.2 744.2 545.5 744.8C547.8 745.2 557.9 744.8 559.2 744.8" stroke="#2f7de8"/>
<path d="M559.2 518.5C558.5 519.5 555.1 527.4 551.8 528.5C548.4 529.6 530.4 528.2 525.5 529.8C520.6 531.2 505.8 541.4 503 543.5C500.2 545.6 498.5 550.2 498 551" stroke="#2f7de8"/>
<path d="M608 81C607.2 83 602.6 97.1 600.5 101C598.4 104.9 588.8 117.3 586.8 119.8C584.8 122.3 581.2 125.5 580 126.3C578.8 127.1 576.9 127.8 575 127.5C573.1 127.2 563.4 122.8 561.3 123C559.2 123.2 555.3 125.7 554.4 129.4C553.5 133.1 552.9 154.2 552.5 160C552.1 165.8 550.1 183.5 550 187.5C549.9 191.5 550.8 196.6 551.3 200C551.8 203.4 554.4 218.2 555 222C555.6 225.8 557 234.1 557.5 237.5C558 240.9 560.4 254.1 560 256.3C559.6 258.6 556.5 259 553.8 260C551 261 534.9 265.1 532.5 266.3C530.1 267.6 529.5 269.6 529.4 272.5C529.3 275.4 530.9 291.5 531.3 295C531.7 298.5 535.1 305.8 533.8 307.5C532.5 309.2 520 311.1 518 312.5C516 313.9 514.7 321.1 514.3 322" stroke="#e3141c"/>
<path d="M515.5 319.8C514.5 321.6 506.4 334.9 505.5 338.5C504.6 342.1 506.5 353 506.8 356C507 359 508.6 365.8 508 368.5C507.4 371.2 501.2 380 500.5 383.5C499.8 387 500 399.5 500.5 403.5C501 407.5 503.8 420.4 505.5 423.5C507.2 426.6 515.6 433.1 518 434.8C520.4 436.4 527.8 437.6 529.2 439.8C530.8 441.9 532.4 452.1 533 456C533.6 459.9 532.9 476.1 535.5 478.5C538.1 480.9 556.9 479.6 559.2 479.8" stroke="#e3141c"/>
<path d="M556.8 480.2C558.6 480.3 572.9 480.6 575.5 481C578.1 481.4 579.5 484.1 583 484.8C586.5 485.4 603 486.8 610.5 487.2C618 487.8 646.2 489.5 658 489.8C669.8 490 720.5 490.4 728 489.8C735.5 489.1 731.8 486.1 733 483.5C734.2 480.9 736.8 466.5 740.5 463.5C744.2 460.5 764.6 455.4 770.5 453.5C776.4 451.6 795.2 444.8 799.2 444C803.2 443.2 806 445.9 810.5 445.2C815 444.6 840.9 438.7 844.2 438" stroke="#e3141c"/>
<path d="M353 432.2C355.5 431.9 373.2 429.2 378 428.5C382.8 427.8 397.2 425.5 400.5 424.8C403.8 424 409.5 425.1 410.5 421C411.5 416.9 410 387.6 410.5 383.5C411 379.4 410.2 380.8 415.5 379.8C420.8 378.8 453.8 374.8 463 373.5C472.2 372.2 498.4 368.5 508 367.2C517.6 366 554.1 361.6 559.2 361" stroke="#43a935"/>
<path d="M556.8 361C560.1 360.2 584.1 354.9 590.5 353.5C596.9 352.1 613.8 348.6 620.5 347.2C627.2 345.9 651.2 341.8 658 339.8C664.8 337.8 682.5 328.4 688 327.2C693.5 326.1 706 328.9 713 328.5C720 328.1 750 324.2 758 323.5C766 322.8 789.5 321.2 793 321" stroke="#43a935"/>
</g>
<g font-family="'Liberation Sans','Noto Sans CJK SC',sans-serif" font-size="7" fill="#333" stroke="#fff" stroke-width="1.6" paint-order="stroke" stroke-linejoin="round">
<circle cx="474.5" cy="136.5" r="3" fill="#fff" stroke="#3f8f3f" stroke-width="0.9"/><circle cx="474.5" cy="136.5" r="1.3" fill="#3f8f3f" stroke="none"/>
<text x="480" y="139" fill="#356b35">荷塘月色</text>
<text x="480" y="146">湿地公园</text>
<text x="524.2" y="164">蠡口镇</text>
<circle cx="480" cy="240.2" r="3" fill="#fff" stroke="#3f8f3f" stroke-width="0.9"/><circle cx="480" cy="240.2" r="1.3" fill="#3f8f3f" stroke="none"/>
<text x="485.5" y="242.8" fill="#356b35">虎丘湿地公园</text>
<text x="424.2" y="289.8">苏州火车西站</text>
<circle cx="506.2" cy="105.2" r="3" fill="#fff" stroke="#3f8f3f" stroke-width="0.9"/><circle cx="506.2" cy="105.2" r="1.3" fill="#3f8f3f" stroke="none"/>
<text x="511.8" y="107.8" fill="#356b35">苏州花卉植物园</text>
<text x="330.5" y="97.2">东桥镇</text>
<circle cx="586.8" cy="113.5" r="3" fill="#fff" stroke="#2a6fd6" stroke-width="0.9"/><circle cx="586.8" cy="113.5" r="1.3" fill="#2a6fd6" stroke="none"/>
<text x="592.2" y="116" fill="#333">苏州北站</text>
<text x="660.5" y="275.9" font-size="6.8" fill="#3a2806" stroke="#fdf0c0" stroke-width="0.4">沪蓉高速</text>
<circle cx="712.5" cy="287.2" r="3" fill="#fff" stroke="#2a6fd6" stroke-width="0.9"/><circle cx="712.5" cy="287.2" r="1.3" fill="#2a6fd6" stroke="none"/>
<text x="718" y="289.8" fill="#333">苏州园区火车站</text>
<circle cx="858.8" cy="246.8" r="3" fill="#fff" stroke="#2a6fd6" stroke-width="0.9"/><circle cx="858.8" cy="246.8" r="1.3" fill="#2a6fd6" stroke="none"/>
<text x="864.2" y="249.2" fill="#333">唯亭站</text>
<circle cx="763" cy="309.8" r="3" fill="#fff" stroke="#3f8f3f" stroke-width="0.9"/><circle cx="763" cy="309.8" r="1.3" fill="#3f8f3f" stroke="none"/>
<text x="768.5" y="312.2" fill="#356b35">白塘生态植物园</text>
<circle cx="827.5" cy="294.2" r="3" fill="#fff" stroke="#3f8f3f" stroke-width="0.9"/><circle cx="827.5" cy="294.2" r="1.3" fill="#3f8f3f" stroke="none"/>
<text x="833" y="296.8" fill="#356b35">沙湖生态公园</text>
<circle cx="491.2" cy="343.5" r="3" fill="#fff" stroke="#8a4a3a" stroke-width="0.9"/><circle cx="491.2" cy="343.5" r="1.3" fill="#8a4a3a" stroke="none"/>
<text x="496.8" y="346" fill="#333">留园</text>
<text x="466.8" y="386" font-size="8.6" font-weight="bold" fill="#222">苏州市</text>
<circle cx="508.8" cy="414.8" r="3" fill="#fff" stroke="#3f8f3f" stroke-width="0.9"/><circle cx="508.8" cy="414.8" r="1.3" fill="#3f8f3f" stroke="none"/>
<text x="514.2" y="417.2" fill="#356b35">桐泾公园</text>
<text x="238" y="440.2">吴中区林场</text>
<text x="283" y="511.8">胥口镇</text>
<circle cx="506.2" cy="504.8" r="3" fill="#fff" stroke="#8a4a3a" stroke-width="0.9"/><circle cx="506.2" cy="504.8" r="1.3" fill="#8a4a3a" stroke="none"/>
<text x="511.8" y="507.2" fill="#333">石湖景区</text>
<circle cx="477.5" cy="550.5" r="3" fill="#fff" stroke="#8a4a3a" stroke-width="0.9"/><circle cx="477.5" cy="550.5" r="1.3" fill="#8a4a3a" stroke="none"/>
<text x="483" y="553" fill="#333">苏州大学</text>
<text x="483" y="559.8">文正学院</text>
<circle cx="560" cy="332.2" r="3" fill="#fff" stroke="#8a4a3a" stroke-width="0.9"/><circle cx="560" cy="332.2" r="1.3" fill="#8a4a3a" stroke="none"/>
<text x="565.5" y="334.8" fill="#333">狮子林</text>
<circle cx="622" cy="347.8" r="3" fill="#fff" stroke="#3f8f3f" stroke-width="0.9"/><circle cx="622" cy="347.8" r="1.3" fill="#3f8f3f" stroke="none"/>
<text x="627.5" y="350.2" fill="#356b35">中央公园</text>
<circle cx="707.5" cy="353.5" r="3" fill="#fff" stroke="#8a4a3a" stroke-width="0.9"/><circle cx="707.5" cy="353.5" r="1.3" fill="#8a4a3a" stroke="none"/>
<text x="713" y="356" fill="#333">金鸡湖景区</text>
<circle cx="778.8" cy="343.5" r="3" fill="#fff" stroke="#3f8f3f" stroke-width="0.9"/><circle cx="778.8" cy="343.5" r="1.3" fill="#3f8f3f" stroke="none"/>
<text x="784.2" y="346" fill="#356b35">方洲公园</text>
<circle cx="750" cy="431" r="3" fill="#fff" stroke="#8a4a3a" stroke-width="0.9"/><circle cx="750" cy="431" r="1.3" fill="#8a4a3a" stroke="none"/>
<text x="755.5" y="433.5" fill="#333">苏州大学</text>
<text x="755.5" y="441">独墅湖校区</text>
<circle cx="655.5" cy="514.8" r="3" fill="#fff" stroke="#3f8f3f" stroke-width="0.9"/><circle cx="655.5" cy="514.8" r="1.3" fill="#3f8f3f" stroke="none"/>
<text x="661" y="517.2" fill="#356b35">运动公园</text>
<text x="470.5" y="572.8">越溪镇</text>
<text x="404.2" y="616.6" font-size="6.8" fill="#3a2806" stroke="#fdf0c0" stroke-width="0.4">沪常高速</text>
<text x="455" y="612.1" font-size="6.8" fill="#3a2806" stroke="#fdf0c0" stroke-width="0.4">绕城高速</text>
<text x="323.8" y="692.2">浦庄镇</text>
<text x="289.2" y="749.2">临湖镇</text>
<text x="243.5" y="774.8">渡村镇</text>
<circle cx="571.2" cy="692.8" r="3" fill="#fff" stroke="#3f8f3f" stroke-width="0.9"/><circle cx="571.2" cy="692.8" r="1.3" fill="#3f8f3f" stroke="none"/>
<text x="576.8" y="695.2" fill="#356b35">吴江公园</text>
<circle cx="586.8" cy="761" r="3" fill="#fff" stroke="#8a4a3a" stroke-width="0.9"/><circle cx="586.8" cy="761" r="1.3" fill="#8a4a3a" stroke="none"/>
<text x="592.2" y="763.5" fill="#333">吴江体育场</text>
<circle cx="728.2" cy="688" r="3" fill="#fff" stroke="#8a4a3a" stroke-width="0.9"/><circle cx="728.2" cy="688" r="1.3" fill="#8a4a3a" stroke="none"/>
<text x="733.8" y="690.5" fill="#333">同里古镇游览区</text>
<text x="725" y="707.8">同里镇</text>
<text x="810" y="702.2">屯村镇</text>
<text x="498" y="885">菀坪镇</text>
<text x="598" y="846.9" font-size="6.8" fill="#3a2806" stroke="#fdf0c0" stroke-width="0.4">吴江大道</text>
<text x="683.8" y="858.1" font-size="6.8" fill="#3a2806" stroke="#fdf0c0" stroke-width="0.4">吴江大道</text>
<text x="831.8" y="859.1" font-size="6.8" fill="#3a2806" stroke="#fdf0c0" stroke-width="0.4">吴江大道</text>
<text x="629.2" y="874.2">八坼镇</text>
<text x="670.5" y="936.1" font-size="6.8" fill="#3a2806" stroke="#fdf0c0" stroke-width="0.4">沪苏浙高速</text>
<text x="831" y="941.6" font-size="6.8" fill="#3a2806" stroke="#fdf0c0" stroke-width="0.4">沪苏浙高速</text>
<text x="831.8" y="834.2">金家坝镇</text>
<text x="845.5" y="918.2">北厍镇</text>
<text x="886.5" y="863.1" font-size="6.8" fill="#3a2806" stroke="#fdf0c0" stroke-width="0.4">吴江大道</text>
<text x="961.5" y="949.2">黎里镇</text>
<text x="629.2" y="734.5" font-size="6.2" fill="#2f7de8" stroke="#fff" stroke-width="1.4">4号线</text>
<text transform="translate(576 648.5) rotate(80)" font-size="6" fill="#2f7de8" stroke="#fff" stroke-width="1.2">4号线</text>
<text transform="translate(576.8 483.5) rotate(12)" font-size="6" fill="#d0242c" stroke="#fff" stroke-width="1.2">2号线</text>
<text x="374.2" y="421" font-size="6.8" font-weight="bold" fill="#4a3508" stroke="none" text-anchor="middle">中</text>
<text x="374.2" y="427.9" font-size="6.8" font-weight="bold" fill="#4a3508" stroke="none" text-anchor="middle">环</text>
<text x="374.2" y="434.8" font-size="6.8" font-weight="bold" fill="#4a3508" stroke="none" text-anchor="middle">西</text>
<text x="374.2" y="441.7" font-size="6.8" font-weight="bold" fill="#4a3508" stroke="none" text-anchor="middle">线</text>
<text x="616" y="393" font-size="6.8" font-weight="bold" fill="#4a3508" stroke="none" text-anchor="middle">常</text>
<text x="616" y="399.9" font-size="6.8" font-weight="bold" fill="#4a3508" stroke="none" text-anchor="middle">台</text>
<text x="616" y="406.8" font-size="6.8" font-weight="bold" fill="#4a3508" stroke="none" text-anchor="middle">高</text>
<text x="616" y="413.7" font-size="6.8" font-weight="bold" fill="#4a3508" stroke="none" text-anchor="middle">速</text>
<text x="651" y="537.2" font-size="6.8" font-weight="bold" fill="#4a3508" stroke="none" text-anchor="middle">苏</text>
<text x="651" y="544.1" font-size="6.8" font-weight="bold" fill="#4a3508" stroke="none" text-anchor="middle">嘉</text>
<text x="651" y="551" font-size="6.8" font-weight="bold" fill="#4a3508" stroke="none" text-anchor="middle">杭</text>
<text x="651" y="558" font-size="6.8" font-weight="bold" fill="#4a3508" stroke="none" text-anchor="middle">高</text>
<text x="665.5" y="729" font-size="6.8" font-weight="bold" fill="#4a3508" stroke="none" text-anchor="middle">常</text>
<text x="665.5" y="735.9" font-size="6.8" font-weight="bold" fill="#4a3508" stroke="none" text-anchor="middle">台</text>
<text x="665.5" y="742.8" font-size="6.8" font-weight="bold" fill="#4a3508" stroke="none" text-anchor="middle">高</text>
<text x="665.5" y="749.7" font-size="6.8" font-weight="bold" fill="#4a3508" stroke="none" text-anchor="middle">速</text>
<text x="665.5" y="728" font-size="6.8" font-weight="bold" fill="#4a3508" stroke="none" text-anchor="middle">常</text>
<text x="665.5" y="734.9" font-size="6.8" font-weight="bold" fill="#4a3508" stroke="none" text-anchor="middle">台</text>
<text x="665.5" y="741.8" font-size="6.8" font-weight="bold" fill="#4a3508" stroke="none" text-anchor="middle">高</text>
<text x="665.5" y="748.7" font-size="6.8" font-weight="bold" fill="#4a3508" stroke="none" text-anchor="middle">速</text>
</g>
<g font-family="'Liberation Sans','Noto Sans CJK SC',sans-serif" font-size="7.6" fill="#fff">
<rect x="523.2" y="294.6" width="27" height="10.5" rx="1.6" fill="#3b8fe6"/><text x="536.8" y="302.6" text-anchor="middle">姑苏区</text>
<rect x="570.8" y="223.3" width="27" height="10.5" rx="1.6" fill="#3b8fe6"/><text x="584.2" y="231.3" text-anchor="middle">相城区</text>
<rect x="553.2" y="454.1" width="27" height="10.5" rx="1.6" fill="#3b8fe6"/><text x="566.8" y="462.1" text-anchor="middle">吴中区</text>
<rect x="577" y="724" width="27" height="10.5" rx="1.6" fill="#3b8fe6"/><text x="590.5" y="732" text-anchor="middle">吴江区</text>
</g>
<g font-family="'Liberation Sans',sans-serif" font-size="5.6" font-weight="bold" fill="#fff" text-anchor="middle">
<rect x="264.3" y="105.2" width="18.2" height="3" rx="1.3" fill="#e25a3c"/><rect x="264.3" y="106.8" width="18.2" height="7.4" rx="1.2" fill="#e8734a"/>
<text x="273.4" y="112.5">G312</text>
<rect x="233.9" y="147.5" width="18.2" height="3" rx="1.3" fill="#e25a3c"/><rect x="233.9" y="149.1" width="18.2" height="7.4" rx="1.2" fill="#e8734a"/>
<text x="243" y="154.8">G312</text>
<rect x="436.9" y="183.2" width="18.2" height="3" rx="1.3" fill="#e25a3c"/><rect x="436.9" y="184.8" width="18.2" height="7.4" rx="1.2" fill="#5b9e3a"/>
<text x="446" y="190.5">S228</text>
<rect x="487.6" y="268.2" width="14.7" height="3" rx="1.3" fill="#e25a3c"/><rect x="487.6" y="269.8" width="14.7" height="7.4" rx="1.2" fill="#5b9e3a"/>
<text x="495" y="275.5">G42</text>
<rect x="508.6" y="268.2" width="11.2" height="3" rx="1.3" fill="#e25a3c"/><rect x="508.6" y="269.8" width="11.2" height="7.4" rx="1.2" fill="#5b9e3a"/>
<text x="514.2" y="275.5">G2</text>
<rect x="655.1" y="159.5" width="18.2" height="3" rx="1.3" fill="#e25a3c"/><rect x="655.1" y="161.1" width="18.2" height="7.4" rx="1.2" fill="#5b9e3a"/>
<text x="664.2" y="166.8">G312</text>
<rect x="616.9" y="190.5" width="18.2" height="3" rx="1.3" fill="#e25a3c"/><rect x="616.9" y="192.1" width="18.2" height="7.4" rx="1.2" fill="#5b9e3a"/>
<text x="626" y="197.8">G15W</text>
<rect x="588.1" y="253.7" width="18.2" height="3" rx="1.3" fill="#e25a3c"/><rect x="588.1" y="255.3" width="18.2" height="7.4" rx="1.2" fill="#5b9e3a"/>
<text x="597.2" y="261">G15W</text>
<rect x="556.9" y="268.2" width="14.7" height="3" rx="1.3" fill="#e25a3c"/><rect x="556.9" y="269.8" width="14.7" height="7.4" rx="1.2" fill="#5b9e3a"/>
<text x="564.2" y="275.5">G42</text>
<rect x="601.9" y="274.4" width="11.2" height="3" rx="1.3" fill="#e25a3c"/><rect x="601.9" y="276.1" width="11.2" height="7.4" rx="1.2" fill="#5b9e3a"/>
<text x="607.5" y="281.8">G2</text>
<rect x="732.4" y="254.2" width="14.7" height="3" rx="1.3" fill="#e25a3c"/><rect x="732.4" y="255.8" width="14.7" height="7.4" rx="1.2" fill="#5b9e3a"/>
<text x="739.8" y="261.5">G42</text>
<rect x="953.6" y="260.7" width="11.2" height="3" rx="1.3" fill="#e25a3c"/><rect x="953.6" y="262.3" width="11.2" height="7.4" rx="1.2" fill="#5b9e3a"/>
<text x="959.2" y="268">G2</text>
<rect x="998.6" y="264.9" width="11.2" height="3" rx="1.3" fill="#e25a3c"/><rect x="998.6" y="266.6" width="11.2" height="7.4" rx="1.2" fill="#5b9e3a"/>
<text x="1004.2" y="272.2">G2</text>
<rect x="315.1" y="501.3" width="18.2" height="8.4" rx="1.5" fill="#c9aa32"/>
<text x="324.2" y="508">S230</text>
<rect x="730.1" y="380.6" width="18.2" height="8.4" rx="1.5" fill="#c9aa32"/>
<text x="739.2" y="387.2">S323</text>
<rect x="862.4" y="402.6" width="18.2" height="8.4" rx="1.5" fill="#c9aa32"/>
<text x="871.5" y="409.2">S343</text>
<rect x="911.6" y="413.6" width="18.2" height="8.4" rx="1.5" fill="#c9aa32"/>
<text x="920.8" y="420.2">S343</text>
<rect x="877.4" y="474.2" width="14.7" height="3" rx="1.3" fill="#e25a3c"/><rect x="877.4" y="475.8" width="14.7" height="7.4" rx="1.2" fill="#5b9e3a"/>
<text x="884.8" y="481.5">S58</text>
<rect x="907.9" y="467.9" width="14.7" height="3" rx="1.3" fill="#e25a3c"/><rect x="907.9" y="469.6" width="14.7" height="7.4" rx="1.2" fill="#5b9e3a"/>
<text x="915.2" y="475.2">S58</text>
<rect x="829.1" y="516.2" width="14.7" height="3" rx="1.3" fill="#e25a3c"/><rect x="829.1" y="517.8" width="14.7" height="7.4" rx="1.2" fill="#5b9e3a"/>
<text x="836.5" y="523.5">S58</text>
<rect x="959.4" y="534.4" width="21.7" height="3" rx="1.3" fill="#e25a3c"/><rect x="959.4" y="536" width="21.7" height="7.4" rx="1.2" fill="#5b9e3a"/>
<text x="970.2" y="541.8">G15W2</text>
<rect x="596.9" y="551.2" width="14.7" height="3" rx="1.3" fill="#e25a3c"/><rect x="596.9" y="552.8" width="14.7" height="7.4" rx="1.2" fill="#5b9e3a"/>
<text x="604.2" y="558.5">S58</text>
<rect x="665.6" y="551.2" width="14.7" height="3" rx="1.3" fill="#e25a3c"/><rect x="665.6" y="552.8" width="14.7" height="7.4" rx="1.2" fill="#5b9e3a"/>
<text x="673" y="558.5">S58</text>
<rect x="706.9" y="551.2" width="14.7" height="3" rx="1.3" fill="#e25a3c"/><rect x="706.9" y="552.8" width="14.7" height="7.4" rx="1.2" fill="#5b9e3a"/>
<text x="714.2" y="558.5">S58</text>
<rect x="280.6" y="561.2" width="11.2" height="3" rx="1.3" fill="#e25a3c"/><rect x="280.6" y="562.8" width="11.2" height="7.4" rx="1.2" fill="#5b9e3a"/>
<text x="286.2" y="568.5">S9</text>
<rect x="407.6" y="592.5" width="18.2" height="8.4" rx="1.5" fill="#c9aa32"/>
<text x="416.8" y="599.2">S230</text>
<rect x="498.4" y="730.5" width="18.2" height="8.4" rx="1.5" fill="#c9aa32"/>
<text x="507.5" y="737.2">S230</text>
<rect x="951.9" y="617.9" width="21.7" height="3" rx="1.3" fill="#e25a3c"/><rect x="951.9" y="619.5" width="21.7" height="7.4" rx="1.2" fill="#5b9e3a"/>
<text x="962.8" y="625.2">G15W2</text>
<rect x="927.4" y="673.7" width="21.7" height="3" rx="1.3" fill="#e25a3c"/><rect x="927.4" y="675.3" width="21.7" height="7.4" rx="1.2" fill="#5b9e3a"/>
<text x="938.2" y="681">G15W2</text>
<rect x="907.6" y="723.2" width="21.7" height="3" rx="1.3" fill="#e25a3c"/><rect x="907.6" y="724.8" width="21.7" height="7.4" rx="1.2" fill="#5b9e3a"/>
<text x="918.5" y="730.5">G15W2</text>
<rect x="498.9" y="731.3" width="18.2" height="8.4" rx="1.5" fill="#c9aa32"/>
<text x="508" y="738">S230</text>
<rect x="456.4" y="874" width="18.2" height="8.4" rx="1.5" fill="#c9aa32"/>
<text x="465.5" y="880.8">S230</text>
<rect x="385.9" y="940.3" width="18.2" height="8.4" rx="1.5" fill="#c9aa32"/>
<text x="395" y="947">S230</text>
<rect x="655.9" y="797.2" width="18.2" height="3" rx="1.3" fill="#e25a3c"/><rect x="655.9" y="798.8" width="18.2" height="7.4" rx="1.2" fill="#5b9e3a"/>
<text x="665" y="804.5">G15W</text>
<rect x="614.4" y="913.3" width="18.2" height="8.4" rx="1.5" fill="#c9aa32"/>
<text x="623.5" y="920">S227</text>
<rect x="730.6" y="932.2" width="14.7" height="3" rx="1.3" fill="#e25a3c"/><rect x="730.6" y="933.8" width="14.7" height="7.4" rx="1.2" fill="#5b9e3a"/>
<text x="738" y="939.5">G50</text>
<rect x="909.9" y="795.9" width="21.7" height="3" rx="1.3" fill="#e25a3c"/><rect x="909.9" y="797.5" width="21.7" height="7.4" rx="1.2" fill="#5b9e3a"/>
<text x="920.8" y="803.2">G15W2</text>
<rect x="963.6" y="927.7" width="14.7" height="3" rx="1.3" fill="#e25a3c"/><rect x="963.6" y="929.3" width="14.7" height="7.4" rx="1.2" fill="#5b9e3a"/>
<text x="971" y="935">G50</text>
<rect x="907.6" y="723.4" width="21.7" height="3" rx="1.3" fill="#e25a3c"/><rect x="907.6" y="725" width="21.7" height="7.4" rx="1.2" fill="#5b9e3a"/>
<text x="918.5" y="730.8">G15W2</text>
</g>
<!--MAPEND-->
</svg>
</div>

<!-- TOOLBAR -->
<div id="toolbar">
  <span class="t" style="left:16px;top:14.2px;font-size:13.9px;color:#1a7fd4">Neightbarhoods</span>
  <span class="t" style="left:149px;top:14.2px;font-size:13px;color:#a6a6aa">Layers</span>
  <div class="abs" style="left:733px;top:0;width:1px;height:39px;background:#ececee"></div>
  <svg class="abs" style="left:747.4px;top:14.8px" width="14" height="14" viewBox="0 0 14 14"><circle cx="5.8" cy="5.8" r="4" fill="none" stroke="#0b1533" stroke-width="1.9"/><path d="M8.8 8.8 L12.2 12.2" stroke="#0b1533" stroke-width="2.2" stroke-linecap="round"/></svg>
  <span class="t" style="left:779.3px;top:14.6px;font-size:13.1px;color:#0b1533">Search</span>
</div>

<!-- DROPDOWN -->
<div id="dd">
  <span class="t g" style="left:18px;top:13px">Richmond</span>
  <span class="t g" style="left:18px;top:39px">Golden Gate Park</span>
  <i style="left:20px;top:69px;background:#1a84dc"></i><span class="t d" style="left:30px;top:64px">Bernal Heights</span>
  <span class="t g" style="left:18px;top:90px">Richmond</span>
  <i style="left:20px;top:122px;background:#1f9b6c"></i><span class="t d" style="left:30px;top:117px">Golden Gate Park</span>
  <span class="t g" style="left:18px;top:142px">Bernal Heights</span>
  <i style="left:20px;top:174px;background:#ea2b70"></i><span class="t d" style="left:30px;top:168px">Richmond</span>
  <span class="t g" style="left:18px;top:194px">Golden Gate Park</span>
  <span class="t g" style="left:18px;top:219px">Bernal Heights</span>
</div>

<!-- HEADER -->
<div id="header">
  <div id="logo"><span class="t" style="left:12px;top:9.6px;font-size:13px;color:#fff">gt</span></div>
  <span class="t" style="left:81px;top:28px;font-size:14px;font-weight:bold;color:#111">GRAND</span>
  <span class="t" style="left:81px;top:41px;font-size:14px;font-weight:bold;color:#111">TAXI</span>

  <svg class="abs" style="left:276px;top:35px" width="17" height="15" viewBox="0 0 17 15"><path d="M8.5 3.2C7 1.8 4.6 1.6 1.6 2V12C4.6 11.6 7 11.8 8.5 13.2C10 11.8 12.4 11.6 15.4 12V2C12.4 1.6 10 1.8 8.5 3.2ZM8.5 3.2V13" fill="none" stroke="#1a7fd4" stroke-width="1.5" stroke-linejoin="round"/></svg>
  <svg class="abs" style="left:419px;top:34px" width="17" height="16" viewBox="0 0 17 16"><path d="M13.5 8.4V13a1 1 0 0 1-1 1H3.4a1 1 0 0 1-1-1V4.4a1 1 0 0 1 1-1H8.4" fill="none" stroke="#0b1533" stroke-width="1.5"/><path d="M6.8 9.6 L7.4 7.2 L12.8 1.8 L14.6 3.6 L9.2 9 Z" fill="none" stroke="#0b1533" stroke-width="1.3" stroke-linejoin="round"/></svg>
  <svg class="abs" style="left:538px;top:35px" width="18" height="17" viewBox="0 0 18 17"><g fill="none" stroke="#0b1533" stroke-width="1.5"><circle cx="3.9" cy="8.5" r="2.3"/><circle cx="13.6" cy="3.6" r="2.3"/><circle cx="13.6" cy="13.4" r="2.3"/><path d="M6 7.4 L11.5 4.7 M6 9.6 L11.5 12.3"/></g></svg>
  <svg class="abs" style="left:1049px;top:32px" width="24" height="24" viewBox="0 0 24 24"><path d="M10.5 4.4C7.6 4.9 6.3 7.2 6.3 10V14.2L4 17.6V18.6H17.4V17.6L15 14.2V10.6" fill="none" stroke="#0b1533" stroke-width="1.7" stroke-linejoin="round"/><path d="M8.6 20.2a2.2 2.2 0 0 0 4.2 0Z" fill="#0b1533"/><circle cx="14.6" cy="6.3" r="6.1" fill="#1c2fa8" stroke="#fff" stroke-width=".8"/><text x="14.6" y="9.2" font-size="8" font-weight="bold" fill="#fff" text-anchor="middle" font-family="'Liberation Sans',sans-serif">3</text></svg>
  <div class="abs" style="left:1083.5px;top:16.8px;width:48px;height:48px;border-radius:50%;overflow:hidden">
    <svg width="48" height="48" viewBox="0 0 49 49"><rect width="49" height="49" fill="#98d3df"/><path d="M0 22 L12 30 L16 49 L0 49Z" fill="#eef2f3"/><path d="M3 29C1 14 12 2 27 2C36 3 42 9 43 16C36 11 27 10 21 14C16 17 14 24 14 32C10 34 5 33 3 29Z" fill="#30272b"/><path d="M5 16C10 7 21 3 33 5" fill="none" stroke="#f3f3f3" stroke-width="2.6"/><ellipse cx="27.5" cy="26" rx="12.5" ry="15" transform="rotate(-14 27.5 26)" fill="#e9c5b0"/><path d="M15 20C19 13 30 10 40 13C34 13 24 16 15 24Z" fill="#2a2227"/><g transform="rotate(-14 28 23)"><ellipse cx="22.5" cy="23.5" rx="5.6" ry="4.2" fill="#3a2f38"/><ellipse cx="35" cy="23.5" rx="5.6" ry="4.2" fill="#3a2f38"/><path d="M12 22 H40" stroke="#e9e9ee" stroke-width=".9"/><ellipse cx="23" cy="24.4" rx="3" ry="1.8" fill="#b8604a"/><ellipse cx="35.4" cy="24.4" rx="3" ry="1.8" fill="#7a6a8a"/></g><path d="M37 32C41 29 47 31 47 36C46 40 40 40 37 37Z" fill="#efc9ba"/><circle cx="32.5" cy="35" r="5.6" fill="#e3eae8" stroke="#c9d3d1" stroke-width=".6"/><circle cx="30.8" cy="33.2" r="1.6" fill="#fff"/><path d="M13 49C14 42 20 38 26 41C28 44 28 49 28 49Z" fill="#f0d2c2"/><path d="M15 49C16 45 22 43 27 46V49Z" fill="#f6f6f6"/></svg>
  </div>
  <svg class="abs" style="left:1249.6px;top:42px" width="10" height="8" viewBox="0 0 10 8"><path d="M2 2 L5 5 L8 2" fill="none" stroke="#0b1533" stroke-width="1.2"/></svg>
  <span class="t" style="left:304px;top:34.5px;font-size:16px;color:#1a7fd4">Analytics</span>
  <div class="abs" style="left:263px;top:78.8px;width:124px;height:2.4px;background:#1274d6"></div>
  <span class="t" style="left:446px;top:34.5px;font-size:16px;color:#0b1533">Reports</span>
  <span class="t" style="left:568px;top:36.5px;font-size:15.4px;color:#0b1533">Seved Data</span>
  <span class="t" style="left:1146px;top:38.6px;font-size:13.4px;color:#0b1533">Angeline Huang</span>
</div>

<!-- SIDEBAR -->
<div id="side">
  <div class="user"><svg class="abs" style="left:37px;top:37px" width="10" height="8" viewBox="0 0 10 8"><path d="M2 2 L5 5 L8 2" fill="none" stroke="#fff" stroke-width="1.3"/></svg><span class="t" style="left:56px;top:32px;font-size:15.9px">User name1234...</span></div>
  <div class="row" style="top:81px;border-top:none"><svg class="abs" style="left:35px;top:25px" width="13" height="12" viewBox="0 0 13 12"><path d="M1.2 8.6 L4.4 5.4 L6.4 7.2 L11.4 2.6" fill="none" stroke="#fff" stroke-width="1.6" stroke-linejoin="round"/></svg><span class="t" style="left:56px;top:23px;font-size:16.1px">Neighborhoods</span></div>
  <div class="row" style="top:144px"><svg class="abs" style="left:35px;top:25px" width="13" height="13" viewBox="0 0 13 13"><circle cx="6.4" cy="6.4" r="4" fill="none" stroke="#fff" stroke-width="1.7"/><path d="M6.4 6.4 L2.2 5.2 L4 2.2 Z" fill="#fff"/><path d="M6.4 6.4 H3" stroke="#fff" stroke-width="1.2"/></svg><span class="t" style="left:57px;top:22px;font-size:15.7px">Average Fare</span></div>
  <div class="row" style="top:207px"><svg class="abs" style="left:35px;top:24px" width="13" height="13" viewBox="0 0 13 13"><circle cx="6.4" cy="6.4" r="4" fill="none" stroke="#fff" stroke-width="1.7"/><path d="M6.4 4 V6.6 H8.2" fill="none" stroke="#fff" stroke-width="1.1"/></svg><span class="t" style="left:57px;top:23px;font-size:15.95px">Average Time</span></div>
  <div class="row act" style="top:270px"><svg class="abs" style="left:36px;top:24px" width="13" height="13" viewBox="0 0 13 13"><rect x="1.2" y="3.6" width="10.2" height="8" rx=".8" fill="#f6d234"/><path d="M4.4 3.6V1.8H8.2V3.6" fill="none" stroke="#f6d234" stroke-width="1.2"/><rect x="3.6" y="5.2" width="1.3" height="6.4" fill="#15254c"/><rect x="7.8" y="5.2" width="1.3" height="6.4" fill="#15254c"/></svg><span class="t" style="left:57px;top:23px;font-size:16.1px">Trips</span></div>
  <div class="abs" style="left:0;top:332px;width:237px;height:1px;background:#1c2a5e"></div>

  <div id="chat">
    <div class="hd">
      <div class="abs" style="left:17.6px;top:12.6px;width:32px;height:32px;border-radius:50%;overflow:hidden;background:#2b1c22">
        <svg width="32" height="32" viewBox="0 0 33 33"><rect width="33" height="33" fill="#3a2c30"/><path d="M0 4 L9 2 L7 22 L3 30 L0 30Z" fill="#7d8f86"/><path d="M6 10 L8 3 L11 4 L8 22 L4 33H0V26Z" fill="#5b4a49"/><ellipse cx="15.5" cy="15.5" rx="8.6" ry="11" transform="rotate(-16 15.5 15.5)" fill="#efdcd6"/><path d="M9 5C13 0 24 0 28 6C32 12 33 24 31 33H22C26 26 26 14 22 9C18 6 13 7 10 10Z" fill="#3a2a2e"/><path d="M8 9C11 5 17 4 21 7C17 7 12 9 9 13Z" fill="#3a2a2e"/><ellipse cx="12" cy="11.6" rx="1.8" ry=".8" fill="#3a2a2e" transform="rotate(-16 12 11.6)"/><ellipse cx="18.6" cy="10.2" rx="1.8" ry=".8" fill="#3a2a2e" transform="rotate(-16 18.6 10.2)"/><path d="M12.4 20.6C14 19.6 16 19.6 17.6 20.4C16.6 22.8 13.8 23 12.4 20.6Z" fill="#c3131f"/><path d="M10 33C11 28 14 26 17 27L20 33Z" fill="#f2ece8"/><path d="M15 33C16 29 20 28 23 30L22 33Z" fill="#d9812a"/></svg>
      </div>
      <span class="t" style="left:57px;top:15px;font-size:12px;color:#fff;font-weight:bold;letter-spacing:-.15px">Jennifer Duglas</span>
      <span class="t" style="left:58px;top:31px;font-size:10.35px;color:#c5cae0">Ready to help you</span>
    </div>
    <div class="abs" style="left:204px;top:67px;width:4px;height:280px;border-radius:2px;background:#0b1840"></div>
    <div class="abs" style="left:204px;top:67px;width:4px;height:42px;border-radius:2px;background:#1b8fe8"></div>
    <span class="t y" style="left:17.5px;top:71px">You</span>
    <span class="t m" style="left:17.5px;top:86px">Hi there my name is John</span>
    <span class="t j" style="left:17.5px;top:111px">Jennifer</span>
    <span class="t m" style="left:17.5px;top:126.5px">Hi John,now can i help you?</span>
    <span class="t y" style="left:17.5px;top:152px">You</span>
    <span class="t m" style="left:17.5px;top:167px">Well,I need some information</span>
    <span class="t y" style="left:17.5px;top:191.5px">You</span>
    <span class="t m" style="left:17.5px;top:206.5px">Hi there my name is John</span>
    <span class="t j" style="left:17.5px;top:232px">Jennifer</span>
    <span class="t m" style="left:17.5px;top:247px">Hi John,Lorem ipsum dolor sit am-</span>
    <span class="t m" style="left:17.5px;top:261px">ent,consectetur adipisicing</span>
    <span class="t y" style="left:17.5px;top:286.5px">You</span>
    <span class="t m" style="left:17.5px;top:301.5px">Well,I need some information Lorem</span>
    <span class="t m" style="left:17.5px;top:315.5px">ipsum dolor sit amet,consectetur adi-</span>
    <span class="t m" style="left:17.5px;top:329px">pisicing elit,sed do eiusmod tempor</span>
    <div class="ft">
      <div class="abs" style="left:6px;top:6px;width:162px;height:31px;background:#fff;border-radius:2px 0 0 2px"></div>
      <span class="t" style="left:16px;top:17px;font-size:9.8px;color:#b4b4b8">Type here...</span>
      <div class="abs" style="left:168px;top:6px;width:38px;height:31px;background:#0f80d8;border-radius:0 2px 2px 0"></div>
      <svg class="abs" style="left:180px;top:16px" width="14" height="13" viewBox="0 0 14 13"><path d="M13 .6 L.8 6.2 L4.6 7.6 L10.6 2.8 L6 8.4 L6 11.8 L7.8 9.2 L10.4 10.6 Z" fill="#fff"/></svg>
    </div>
  </div>
</div>

<!-- RIGHT PANEL -->
<div id="panel">
  <span class="t h" style="left:31px;top:13px">Trips overview</span>
  <span class="t n" style="left:30px;top:48px">463</span>
  <svg class="abs" style="left:78px;top:58px" width="10" height="8" viewBox="0 0 10 8"><path d="M1.5 2 L5 5.5 L8.5 2" fill="none" stroke="#0b1533" stroke-width="1.4"/></svg>
  <span class="t g" style="left:31px;top:89px">Total</span>
  <svg class="abs" style="left:114px;top:49px" width="9" height="54" viewBox="0 0 9 54"><path d="M4.5 2 V52 M2 5 L4.5 1.5 L7 5" fill="none" stroke="#22a173" stroke-width="1"/></svg>
  <span class="t n" style="left:123px;top:48px">64</span>
  <span class="t" style="left:125px;top:89px;font-size:11.6px;color:#22a173">up</span>
  <svg class="abs" style="left:194px;top:51px" width="9" height="54" viewBox="0 0 9 54"><path d="M4.5 1 V51 M2 48 L4.5 51.5 L7 48" fill="none" stroke="#ea2b70" stroke-width="1"/></svg>
  <span class="t n" style="left:203px;top:48px">269</span>
  <span class="t" style="left:205px;top:89px;font-size:11.6px;color:#ea2b70">off</span>
  <span class="t a" style="left:31px;top:130px">$5</span>
  <span class="t g" style="left:31px;top:147px">Avg/trip</span>
  <span class="t a" style="left:118px;top:130px">5:30</span>
  <span class="t g" style="left:118px;top:147px">Time/trip</span>
  <div class="hr" style="left:0;top:178px;width:271px"></div>
  <span class="t h" style="left:31px;top:193px">Overall time per trip</span>
  <svg class="abs" style="left:0;top:210px" width="271" height="140" viewBox="1009 330 271 140">
    <defs><linearGradient id="ag" x1="0" y1="356" x2="0" y2="447" gradientUnits="userSpaceOnUse"><stop offset="0" stop-color="#1a86dc"/><stop offset=".45" stop-color="#6db3ea"/><stop offset="1" stop-color="#ffffff"/></linearGradient></defs>
    <path id="garea" d="M1040.7 420.6C1048 420 1055 421.5 1062.4 425.2C1070 429.5 1076 435 1083.6 436.1C1091 436.6 1098 439.5 1105.4 441.2C1112 443.3 1120 443 1126.4 438.8C1134 433 1140 421.5 1147.7 420.4C1155 419.8 1162 423.5 1169.1 425C1176 427 1184 426.5 1190.1 421.9C1197 416 1205 407 1212.4 401.6C1220 394.5 1226 377.5 1233.9 373.4C1241 368.5 1248 362.5 1254.9 356.1V447H1040.7Z" fill="url(#ag)"/>
    <g stroke="#dcdce0" stroke-width=".8" fill="none" opacity=".75">
      <path d="M1040.7 341V454M1062.4 341V454M1083.6 341V454M1105.4 341V454M1126.4 341V454M1147.7 341V454M1169.1 341V454M1190.5 341V454M1212.2 341V454M1233.6 341V454M1254.4 341V454"/>
      <path d="M1040 349.1H1255M1040 365.5H1255M1040 380.8H1255M1040 397.2H1255M1040 412.5H1255M1040 428.3H1255M1040 444.2H1255"/>
    </g>
    <path d="M1040.7 420.6C1048 420 1055 421.5 1062.4 425.2C1070 429.5 1076 435 1083.6 436.1C1091 436.6 1098 439.5 1105.4 441.2C1112 443.3 1120 443 1126.4 438.8C1134 433 1140 421.5 1147.7 420.4C1155 419.8 1162 423.5 1169.1 425C1176 427 1184 426.5 1190.1 421.9C1197 416 1205 407 1212.4 401.6C1220 394.5 1226 377.5 1233.9 373.4C1241 368.5 1248 362.5 1254.9 356.1" fill="none" stroke="#1a86dc" stroke-width="1.1"/>
    <g fill="#1565d8" stroke="#fff" stroke-width=".8">
      <circle cx="1040.7" cy="420.6" r="1.7"/><circle cx="1062.4" cy="425.2" r="1.7"/><circle cx="1083.6" cy="436.1" r="1.7"/><circle cx="1105.4" cy="441.2" r="1.7"/><circle cx="1126.4" cy="438.8" r="1.7"/><circle cx="1169.1" cy="425" r="1.7"/><circle cx="1190.1" cy="421.9" r="1.7"/><circle cx="1254.9" cy="356.1" r="1.7"/>
    </g>
    <g fill="#fff" stroke="#1a86dc" stroke-width="1"><circle cx="1147.7" cy="420.4" r="1.9"/><circle cx="1212.4" cy="401.6" r="1.9"/><circle cx="1233.9" cy="373.4" r="1.9"/></g>
    <path d="M1134 400H1162.4a1 1 0 0 1 1 1V413a1 1 0 0 1 -1 1H1149.6L1147.8 416L1146 414H1134a1 1 0 0 1 -1 -1V401a1 1 0 0 1 1 -1Z" fill="#0d1838"/>
    <circle cx="1138.3" cy="407.2" r="2.1" fill="none" stroke="#1a8fe8" stroke-width=".9"/><path d="M1138.3 406V407.4H1139.3" fill="none" stroke="#1a8fe8" stroke-width=".6"/>
    <text x="1144.3" y="409.6" font-size="6.6" font-weight="bold" fill="#fff" font-family="'Liberation Sans',sans-serif">8 min</text>
    <text x="1135" y="463.2" font-size="6.4" fill="#77787c" font-family="'Liberation Sans',sans-serif">Months</text>
    <text transform="translate(1030.3 377.5) rotate(90)" font-size="6.4" fill="#77787c" font-family="'Liberation Sans',sans-serif">Time</text>
  </svg>
  <div class="hr" style="left:0;top:362px;width:271px"></div>
  <span class="t h" style="left:27px;top:379px;font-size:12.9px">List of trips</span>
  
  <div class="trip" style="top:408px">
    <svg class="abs" style="left:26.5px;top:4.5px" width="22" height="22" viewBox="0 0 20 20"><path d="M12.3 2.2a4.6 4.6 0 0 0-4.6 4.6c0 3.4 4.6 9.6 4.6 9.6s4.6-6.2 4.6-9.6a4.6 4.6 0 0 0-4.6-4.6zm0 6.6a2 2 0 1 1 0-4 2 2 0 0 1 0 4z" fill="#b9bac0"/><path d="M4.2 4.6a2.9 2.9 0 0 0-2.9 2.9c0 1.9 2.3 4.6 2.9 5.3.5-.7 2.9-3.4 2.9-5.3a2.9 2.9 0 0 0-2.9-2.9zm0 4.1a1.2 1.2 0 1 1 0-2.4 1.2 1.2 0 0 1 0 2.4z" fill="#b9bac0"/><path d="M4.6 12.6 L10.6 15.4" stroke="#b9bac0" stroke-width=".9" fill="none"/></svg>
    <span class="t a" style="left:60px;top:4px">5621 Lee Ferdinand Hwy,</span>
    <span class="t a" style="left:60px;top:17px">22045,Arlington,CA</span>
    <svg class="abs" style="left:60px;top:39px" width="9.6" height="9.6" viewBox="0 0 9 9"><circle cx="4.5" cy="4.5" r="3.6" fill="none" stroke="#b9b9bd" stroke-width=".9"/><path d="M4.5 2.4V4.7H6.2" fill="none" stroke="#b9b9bd" stroke-width=".8"/></svg>
    <span class="t g" style="left:72px;top:38px;font-size:12.2px">11 Feb,2017 at 19:56</span>
    <svg class="abs" style="left:35px;top:52px" width="9" height="22" viewBox="0 0 9 22"><path d="M4.5 1V20 M1.8 16.6 L4.5 20.4 L7.2 16.6" fill="none" stroke="#22a173" stroke-width="1"/></svg>
    <span class="t a" style="left:60px;top:71px">5621 Lee Ferdinand Hwy,</span>
    <span class="t a" style="left:60px;top:84.5px">22045,Arlington,CA</span>
    <svg class="abs" style="left:60px;top:105px" width="9.6" height="9.6" viewBox="0 0 9 9"><circle cx="4.5" cy="4.5" r="3.6" fill="none" stroke="#b9b9bd" stroke-width=".9"/><path d="M4.5 2.4V4.7H6.2" fill="none" stroke="#b9b9bd" stroke-width=".8"/></svg>
    <span class="t g" style="left:73px;top:104px;font-size:12.2px">9 Feb,2017 at 08:12</span>
    <div class="hr" style="left:27px;top:130px;width:219px"></div>
  </div>
  <div class="trip" style="top:553px">
    <svg class="abs" style="left:26.5px;top:4.5px" width="22" height="22" viewBox="0 0 20 20"><path d="M12.3 2.2a4.6 4.6 0 0 0-4.6 4.6c0 3.4 4.6 9.6 4.6 9.6s4.6-6.2 4.6-9.6a4.6 4.6 0 0 0-4.6-4.6zm0 6.6a2 2 0 1 1 0-4 2 2 0 0 1 0 4z" fill="#b9bac0"/><path d="M4.2 4.6a2.9 2.9 0 0 0-2.9 2.9c0 1.9 2.3 4.6 2.9 5.3.5-.7 2.9-3.4 2.9-5.3a2.9 2.9 0 0 0-2.9-2.9zm0 4.1a1.2 1.2 0 1 1 0-2.4 1.2 1.2 0 0 1 0 2.4z" fill="#b9bac0"/><path d="M4.6 12.6 L10.6 15.4" stroke="#b9bac0" stroke-width=".9" fill="none"/></svg>
    <span class="t a" style="left:60px;top:4px">5621 Lee Ferdinand Hwy,</span>
    <span class="t a" style="left:60px;top:17px">22045,Arlington,CA</span>
    <svg class="abs" style="left:60px;top:39px" width="9.6" height="9.6" viewBox="0 0 9 9"><circle cx="4.5" cy="4.5" r="3.6" fill="none" stroke="#b9b9bd" stroke-width=".9"/><path d="M4.5 2.4V4.7H6.2" fill="none" stroke="#b9b9bd" stroke-width=".8"/></svg>
    <span class="t g" style="left:72px;top:38px;font-size:12.2px">11 Feb,2017 at 19:56</span>
    <svg class="abs" style="left:35px;top:52px" width="9" height="22" viewBox="0 0 9 22"><path d="M4.5 1V20 M1.8 16.6 L4.5 20.4 L7.2 16.6" fill="none" stroke="#22a173" stroke-width="1"/></svg>
    <span class="t a" style="left:60px;top:71px">5621 Lee Ferdinand Hwy,</span>
    <span class="t a" style="left:60px;top:84.5px">22045,Arlington,CA</span>
    <svg class="abs" style="left:60px;top:105px" width="9.6" height="9.6" viewBox="0 0 9 9"><circle cx="4.5" cy="4.5" r="3.6" fill="none" stroke="#b9b9bd" stroke-width=".9"/><path d="M4.5 2.4V4.7H6.2" fill="none" stroke="#b9b9bd" stroke-width=".8"/></svg>
    <span class="t g" style="left:73px;top:104px;font-size:12.2px">9 Feb,2017 at 08:12</span>
    <div class="hr" style="left:27px;top:130px;width:219px"></div>
  </div>
  <div class="trip" style="top:698px">
    <svg class="abs" style="left:26.5px;top:4.5px" width="22" height="22" viewBox="0 0 20 20"><path d="M12.3 2.2a4.6 4.6 0 0 0-4.6 4.6c0 3.4 4.6 9.6 4.6 9.6s4.6-6.2 4.6-9.6a4.6 4.6 0 0 0-4.6-4.6zm0 6.6a2 2 0 1 1 0-4 2 2 0 0 1 0 4z" fill="#b9bac0"/><path d="M4.2 4.6a2.9 2.9 0 0 0-2.9 2.9c0 1.9 2.3 4.6 2.9 5.3.5-.7 2.9-3.4 2.9-5.3a2.9 2.9 0 0 0-2.9-2.9zm0 4.1a1.2 1.2 0 1 1 0-2.4 1.2 1.2 0 0 1 0 2.4z" fill="#b9bac0"/><path d="M4.6 12.6 L10.6 15.4" stroke="#b9bac0" stroke-width=".9" fill="none"/></svg>
    <span class="t a" style="left:60px;top:4px">5621 Lee Ferdinand Hwy,</span>
    <span class="t a" style="left:60px;top:17px">22045,Arlington,CA</span>
    <svg class="abs" style="left:60px;top:39px" width="9.6" height="9.6" viewBox="0 0 9 9"><circle cx="4.5" cy="4.5" r="3.6" fill="none" stroke="#b9b9bd" stroke-width=".9"/><path d="M4.5 2.4V4.7H6.2" fill="none" stroke="#b9b9bd" stroke-width=".8"/></svg>
    <span class="t g" style="left:72px;top:38px;font-size:12.2px">11 Feb,2017 at 19:56</span>
    <svg class="abs" style="left:35px;top:52px" width="9" height="22" viewBox="0 0 9 22"><path d="M4.5 1V20 M1.8 16.6 L4.5 20.4 L7.2 16.6" fill="none" stroke="#22a173" stroke-width="1"/></svg>
    <span class="t a" style="left:60px;top:71px">5621 Lee Ferdinand Hwy,</span>
    <span class="t a" style="left:60px;top:84.5px">22045,Arlington,CA</span>
    <svg class="abs" style="left:60px;top:105px" width="9.6" height="9.6" viewBox="0 0 9 9"><circle cx="4.5" cy="4.5" r="3.6" fill="none" stroke="#b9b9bd" stroke-width=".9"/><path d="M4.5 2.4V4.7H6.2" fill="none" stroke="#b9b9bd" stroke-width=".8"/></svg>
    <span class="t g" style="left:73px;top:104px;font-size:12.2px">9 Feb,2017 at 08:12</span>
    
  </div>
</div>

</body>
</html>
